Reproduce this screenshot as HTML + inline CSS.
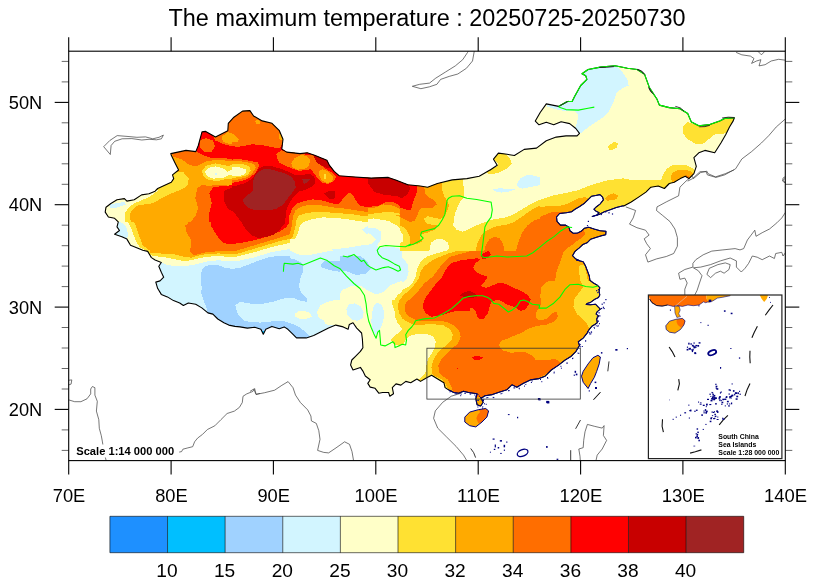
<!DOCTYPE html>
<html><head><meta charset="utf-8"><title>The maximum temperature</title>
<style>html,body{margin:0;padding:0;background:#fff}body{width:814px;height:586px;overflow:hidden}svg{display:block}text{font-family:"Liberation Sans",sans-serif;fill:#000}</style></head><body>
<svg width="814" height="586" viewBox="0 0 814 586" style="will-change:transform">
<rect width="814" height="586" fill="#fff"/>
<defs><clipPath id="cn"><polygon points="105.2,212.1 106,207.2 110.9,203.5 117,199.8 124.4,198.6 126.9,201.1 134.2,199.8 141.6,194.9 149,193.7 155.1,191.2 157.7,188.5 171.3,182.3 173.7,178.6 172.5,174.9 178.6,170 174.9,162.7 171.3,155.3 170.8,153.6 186,150.4 195.8,151.6 198.3,145.5 202,131.9 205.7,131.4 215.5,136.9 227.8,130.7 228.3,123.3 233.9,117.2 242.5,111.1 249.9,110.6 253.6,116 262.2,120.9 272,123.3 279.4,130.7 283,139.3 281.8,149.1 286.7,152.1 300,153.6 307.2,152.8 314.6,155.3 326.9,160.2 329.3,165.1 334.2,171.3 339.1,175.7 351.4,176.7 371.1,178.1 388.3,177.4 395.7,179.9 407.9,184.8 420.2,186 427.6,187.2 437.4,183.5 452.2,179.9 466.9,178.6 479.2,176.2 490,170 489.8,170.3 497.2,165.3 493.5,159.2 498.4,153.1 507,154.3 514.4,155.5 524.2,149.4 536.5,148.1 546.3,140.8 556.2,137.1 566,135.9 577.1,135.9 579.5,133.4 575.8,128.5 569.7,123.6 561.1,121.8 553.7,124.8 546.3,122.3 539,124.8 535.3,121.1 540.2,112.5 546.3,103.9 558.6,106.4 567.2,101.5 572.1,101.5 574.6,96.5 580.7,85.5 586.9,79.3 585.7,75.7 582,73.7 588.1,69.5 600.4,67.1 615.1,65.8 627.4,68.3 637.2,69.5 644.6,74.4 649.5,87.9 656.9,99 659.4,105.1 669.2,107.6 680,108.8 687.7,113.5 691.4,122.1 698.8,125.8 709.8,124.6 719.7,120.9 724.6,118.4 734.4,117.7 733.2,120.9 729.5,127 725.8,134.4 720.9,143 714.7,152.8 704.9,150.4 698.8,152.8 693.9,157.7 696.3,166.3 693.9,173.7 688.9,178.6 685.3,176.2 680.3,178.6 674.2,182.3 669.3,183.5 664.4,188.5 658.2,186 650.9,187.2 645.9,192.1 638.6,197.1 631.2,202 623.8,206.1 623.2,205.8 616.3,207.5 609.4,210.1 604.3,211.8 599.1,214.4 592.2,216.5 596.5,215.3 599.1,212.7 595.7,211 594,209.2 596.5,206.7 600,204.1 603.4,199.8 602.6,197.2 600,194.6 595.7,195.5 591.4,196.3 587.9,199.8 584.5,203.2 579.3,206.7 575,209.2 571.6,211.8 566.4,212.7 559.6,213.5 556.5,217 557,221.3 560.4,225.1 565.6,225.1 569,227.3 569.9,230.7 573.3,233.3 577.6,233 581.1,231.3 584.5,228.2 588.8,227.3 594,229 600,230.7 606,231.3 605.7,234.7 600.8,235.9 595.7,237.6 590.5,239.3 587.1,242.8 582.8,244.5 579.3,247.9 575,251.4 572.5,255.7 575.9,259.1 579.3,260.5 576.4,260 583.2,261.8 585.6,266.1 587.5,271.1 589.3,276 589.9,280.3 593,282.7 597.3,285.2 599.8,287.6 599.1,291.3 599.8,295 598.5,297.5 594.8,299.3 590.5,302.4 586.9,303.6 586.2,304.5 590.5,304.8 595.5,304.2 598.5,307.3 600.4,309.1 597.3,311.6 596.1,314.1 598.5,315.9 596.7,319 597.3,322.7 594.8,324.5 591.8,326.3 589.3,329.4 587.5,332 588.1,331.9 583.2,338.1 578.3,341.8 579.5,345.5 575.8,351.6 570.9,356.5 564.8,360.2 558.6,365.1 551.3,370 545.1,376.2 539,378.6 530.4,379.9 523,383.5 516.9,387.2 511.9,384.8 507,389.7 499.7,392.1 492.3,394.6 484.9,395.8 481.2,398.3 480.7,397.4 483.2,402.3 480.7,406 477.1,404.8 475.8,398.6 477.1,393.7 473.4,393.2 468.5,392.5 463.5,391.3 458.6,393.2 453.7,392.5 448.8,390 445.1,387.6 443.9,382.7 437.7,379 431.6,375.3 426.7,377.7 420.5,381.4 416.9,379 410.7,382.7 405.8,381.4 400.9,385.1 396,383.9 392.3,387.6 393.5,393.7 389.8,396.2 388.6,392.5 382.5,392.5 378.8,393.2 375.1,388.3 370.2,387.1 367.8,383.4 370.2,379.7 365.3,376 362.9,371.1 360.4,367.4 353,369.9 350.6,364.9 351.8,360 355.5,356.3 360.4,351.4 362.9,347.7 362.4,339.1 361.6,333 356.7,328.1 353,322.7 349.3,324.4 348.1,329.3 343.2,326.9 335.8,325.1 328.5,328.1 321.1,331.8 313.7,335.5 306.3,337.9 296.5,337.9 292.8,334.2 287.9,329.3 284.2,326.9 279.3,328.8 271.9,326.4 265.8,329.3 263.3,334.2 260.9,329.3 254.7,327.3 247.4,328.1 240,326.9 235,326.4 228.8,325.1 223.9,322.7 217.8,319 212.9,314.1 207.9,312.9 201.8,307.9 195.7,304.3 188.3,303 183.4,305.5 179.7,303 173.5,300.6 167.4,296.9 161.3,294.4 157.6,288.3 155.8,282.1 160,280.9 163.7,277.2 161.3,272.3 158.8,266.2 161.3,262.5 155.1,260 151.4,257.6 147.7,251.4 142.8,250.2 136.7,247.7 130.5,245.3 126.9,239.1 121.9,236.7 114.6,234.2 119.5,230.5 117,226.9 118.3,221.9 114.6,218.3 108.4,217"/></clipPath><clipPath id="fr"><rect x="68.7" y="51.2" width="716.5999999999999" height="409.40000000000003"/></clipPath></defs>
<g clip-path="url(#fr)">
<g fill="none" stroke="#3c3c3c" stroke-width="0.7" stroke-linejoin="round">
<path d="M103.7 146.7 L109.8 140.5 L117.2 135.6 L127 136.4 L136.9 137.3 L145.5 136.9 L152.8 138.8 L159 137.3 L163.4 135.1 L161.4 138.8 L156.5 139.8 L149.1 139.3 L141.8 140 L131.9 138.6 L122.1 138.8 L114.7 141.3 L111.1 145.5 L110.3 154.5Z"/>
<path d="M412.3 86.3 L419.7 84.3 L429.5 83.1 L435.7 78.2 L445.5 72 L455.3 65.9 L462.7 59.7 L467.6 52.4 L468.8 49.9 L474.5 49.9 L472.5 61 L466.4 68.3 L457.8 74 L449.2 76.4 L440.6 79.4 L436.9 84.3 L429.5 86.8 L420.9 88.7Z"/>
<path d="M736.1 52.4 L741.8 54.8 L750.4 56.1 L754 58.5 L751.6 63.4 L756.5 61 L760.9 59.7 L759 65.9 L765.1 64.7 L771.2 61 L778.6 59.3 L785.3 60.2"/>
<path d="M757.7 51.1 L761.4 54.8 L765.1 51.1"/>
<path d="M786 118.4 L776.2 127 L768.8 135.6 L761.4 143 L751.6 151.6 L741.8 159 L735.6 168.8 L724.6 174.9 L716 177.4 L707.4 174.9 L706.1 171.7 L700 171.7 L692.6 178.6 L687.7 181.1"/>
<path d="M786 176.2 L783 178.1 L782.6 181.1 L786 183.5"/>
<path d="M625.8 206.9 L635.6 210.5 L633.2 217.9 L629.5 224.1 L636.9 227.7 L645.5 230.2 L649.1 235.1 L644.2 238.8 L646.7 243.7 L650.4 248.6 L645.5 254.8 L647.9 262.1 L656.5 258.9 L666.3 256.5 L673.7 253.5 L677.4 246.2 L677.4 237.6 L674.9 229 L670 221.6 L662.7 215.5 L656.5 210.5 L657 206.9 L666.3 201.9 L678.6 195.8 L679.9 187.2 L686 181.1 L692.1 176.1 L693.4 178.6 L700.7 172.5 L706.9 171.2 L708.1 173.7 L715.5 176.9 L725.3 173.7 L733.9 170"/>
<path d="M786.7 210.5 L781.8 217.9 L776.9 222.8 L769.5 229 L762.2 232.7 L756 236.3 L754.8 230.2 L751.1 235.1 L747.4 240 L743.7 248.6 L740 249.9 L735.1 248.6 L722.9 249.9 L711.8 251.1 L703.2 254.8 L695.8 259.7 L692.9 263.4 L692.9 267.1 L684.8 269.5 L678.6 273.2 L679.9 279.3 L684.8 278.1 L687.2 283 L684.8 289.2 L684.8 295.3"/>
<path d="M786.7 251.1 L783 256 L781.8 252.3 L775.7 253.5 L774.4 258.5 L769.5 256 L762.2 259.7 L757.2 257.2 L752.3 256 L748.6 263.4 L745 268.3 L741.3 272 L736.4 267.1 L736.4 260.9 L730.2 258 L720.4 260.9 L710.6 264.6 L700.7 267.1 L693.4 267.8 L698.3 270.7 L702 275.7 L699.5 283 L697.1 290.4 L694.6 295.3"/>
<path d="M706.9 274.4 L709.3 268.3 L717.9 264.6 L725.3 262.9 L730.2 264.6 L729 269.5 L724.1 273.2 L720.4 271.2 L715.5 273.2 L710.6 277.6Z"/>
<path d="M786.7 176.9 L783 180.3 L786.7 184"/>
<path d="M67.4 380.4 L71.8 379.9 L71.1 384.1 L67.4 385.3"/>
<path d="M67.4 399.5 L74.7 401.7 L80.9 401.7 L87 398.8 L90.7 393.9 L90.7 389 L92.4 386.5 L94.9 387.7 L94.9 395.1 L97.3 401.3 L96.4 411.1 L98.8 419.7 L99.3 428.3 L101.3 435.7 L102.3 441.1 L104.2 452.9 L106.7 462.7"/>
<path d="M179.2 452.1 L181.6 451.6 L182.9 449.2 L187.8 447.9 L192.7 446.7 L194.6 441.8 L197.6 438.1 L202.5 434.4 L207.4 429.5 L214.8 425.8 L220.9 419.7 L227.1 413.5 L234.4 411.1 L239.4 407.4 L242.3 402.5 L243 396.3 L246.7 393.9 L252.9 391.4 L254.6 388.5 L256.1 394.4 L260 393.4"/>
<path d="M250 391.4 L253.7 389 L256.1 394.4 L264.7 392.7 L274.6 390.2 L281.9 385.3 L288.1 381.6 L293 387.7 L295.5 395.1 L300.4 402.5 L307.7 409.9 L310.9 416 L311.4 420.9 L316.3 423.4 L318.8 430.7 L320 439.3 L317.6 450.4 L323.7 452.4 L328.6 452.9 L336 447.9 L344.6 441.8 L349.5 444.3 L352 451.6 L353.7 461.4"/>
<path d="M461.1 393.2 L451.3 396.2 L442.7 402.3 L435.3 410.9 L433.6 418.3 L437.7 428.1 L446.3 436.7 L456.2 446.5 L463.5 455.1 L467.2 461.3"/>
<path d="M580.5 463.7 L580 456.3 L578.8 449 L583.2 447.7 L583.7 440.4 L585 431.8 L587.4 424.4 L594.8 426.4 L602.2 428.1 L604.1 425.6 L603.4 435.5 L606.6 440.4 L602.2 449 L597.2 455.1 L595.3 463.7"/>
</g>
<g clip-path="url(#cn)" shape-rendering="crispEdges">
<rect x="60" y="50" width="740" height="420" fill="#FFFFC8"/>
<clipPath id="t0"><rect x="100" y="100" width="200" height="144"/></clipPath>
<g clip-path="url(#t0)"><rect x="100" y="100" width="200" height="144" fill="#FFAA00"/><g transform="translate(100,100) scale(0.24570)">
<polygon fill="#FFE132" points="300,290 340,295 362,320 355,350 330,365 290,380 250,400 215,420 180,425 150,430 125,455 120,480 135,510 150,545 155,586 0,586 0,300"/>
<polygon fill="#FFFFC8" points="240,365 200,395 170,408 140,420 115,440 100,462 100,490 112,520 125,550 135,586 0,586 0,350"/>
<polygon fill="#D2F5FF" points="40,425 100,415 105,425 60,440 40,440"/>
<polygon fill="#D2F5FF" points="75,500 100,505 110,530 100,550 70,540"/>
<polygon fill="#FF6E00" points="300,232 330,240 365,265 395,270 430,250 480,243 540,250 600,245 640,255 650,270 640,300 620,330 590,345 540,350 480,345 440,350 415,345 395,360 388,400 400,440 390,470 370,495 355,520 350,560 360,586 814,586 814,0 280,0 280,200"/>
<polygon fill="#FFAA00" points="495,150 520,130 545,140 565,160 560,175 530,180 500,170"/>
<polygon fill="#FFAA00" points="628,85 645,80 655,95 640,100"/>
<polygon fill="#FFAA00" points="790,245 814,225 814,285 795,275"/>
<polygon fill="#FF0000" points="392,205 400,185 405,120 430,118 460,145 470,165 500,178 540,190 570,195 600,185 640,180 690,195 720,215 725,250 750,265 790,280 814,290 814,586 480,586 460,540 445,500 445,460 455,420 445,380 460,355 500,350 560,345 600,335 630,320 645,295 650,265 620,250 560,245 500,235 450,235 420,225 400,215"/>
<polygon fill="#FF6E00" points="408,165 430,155 460,165 468,190 455,210 425,212 408,195"/>
<polygon fill="#FFAA00" points="728,140 745,135 752,150 746,166 730,160"/>
<polygon fill="#C80000" points="640,275 680,265 720,270 760,285 814,300 814,400 790,420 765,460 755,500 740,530 700,555 650,560 600,540 580,510 555,470 520,440 505,410 505,370 540,355 590,340 620,310"/>
<polygon fill="#A02323" points="650,290 690,280 730,290 770,310 795,340 790,375 770,400 745,430 700,440 650,445 610,440 582,415 590,395 620,370 630,340 640,305"/>
<polygon fill="#FFE132" points="415,290 430,268 470,258 520,268 560,262 600,270 615,290 600,318 560,325 520,320 480,330 440,325 420,310"/>
<polygon fill="#FFFFC8" points="427,292 440,277 470,270 500,278 520,292 545,280 575,275 595,285 598,300 580,312 550,310 525,305 500,318 460,320 435,310"/>
<polygon fill="#D2F5FF" points="468,296 478,296 478,304 468,304"/>
</g></g>
<clipPath id="t1"><rect x="290" y="100" width="200" height="144"/></clipPath>
<g clip-path="url(#t1)"><rect x="290" y="100" width="200" height="144" fill="#FFE132"/><g transform="translate(290,100) scale(0.24570)">
<polygon fill="#FFFFC8" points="0,505 30,490 80,480 130,475 200,480 260,485 330,485 400,470 440,480 470,500 480,530 490,586 0,586"/>
<polygon fill="#FFFFC8" points="705,330 740,320 780,305 814,285 814,395 760,392 720,385 705,360"/>
<polygon fill="#FFFFC8" points="670,480 700,465 750,465 790,480 800,510 785,545 750,560 700,555 670,530"/>
<polygon fill="#D2F5FF" points="300,525 330,515 360,525 375,545 365,570 340,586 310,586 295,550"/>
<polygon fill="#FFAA00" points="0,200 620,200 615,335 625,350 620,380 625,410 610,430 600,450 580,470 555,480 550,500 570,520 600,550 605,586 510,586 500,540 495,500 480,475 440,460 400,455 340,462 280,465 220,460 160,458 100,455 40,460 0,470"/>
<polygon fill="#FF6E00" points="0,200 550,200 545,355 560,375 590,395 600,420 585,430 560,425 540,450 525,485 500,470 480,455 450,445 420,430 380,425 340,440 290,440 265,425 250,400 235,385 210,410 190,430 150,425 100,418 40,420 0,430"/>
<polygon fill="#FFAA00" points="0,215 40,220 70,235 80,260 60,285 25,290 0,280"/>
<polygon fill="#FFAA00" points="128,300 145,292 155,310 145,328 130,320"/>
<polygon fill="#FFE132" points="137,305 146,303 147,320 138,318"/>
<polygon fill="#FF0000" points="0,300 40,295 75,290 85,270 95,235 100,200 520,200 520,350 515,380 500,410 495,440 480,447 450,432 420,415 390,415 360,430 320,435 285,430 265,410 250,385 235,375 215,395 195,420 170,420 130,410 80,400 40,405 0,410"/>
<polygon fill="#FF6E00" points="100,270 120,262 160,270 180,290 200,308 185,312 165,332 140,337 120,322 105,300"/>
<polygon fill="#FFAA00" points="128,300 145,292 155,310 145,328 130,320"/>
<polygon fill="#FFE132" points="137,305 146,303 147,320 138,318"/>
<polygon fill="#C80000" points="0,305 40,300 85,300 105,320 100,345 70,365 40,385 0,395"/>
<polygon fill="#A02323" points="0,320 15,325 25,350 15,380 0,390"/>
<polygon fill="#A02323" points="55,325 75,318 85,328 70,342 55,338"/>
<polygon fill="#C80000" points="105,236 150,246 160,268 135,275 110,260"/>
<polygon fill="#C80000" points="145,378 170,370 188,380 185,400 160,405 143,395"/>
<polygon fill="#C80000" points="305,320 330,305 400,305 430,315 480,335 492,360 480,385 455,395 420,390 380,385 345,375 325,350"/>
</g></g>
<clipPath id="t2"><rect x="90" y="222" width="200" height="112"/></clipPath>
<g clip-path="url(#t2)"><rect x="90" y="222" width="200" height="112" fill="#D2F5FF"/><g transform="translate(90,190) scale(0.24570)">
<polygon fill="#A0D2FF" points="455,330 480,312 520,305 560,318 600,322 650,305 700,290 750,275 814,268 814,586 500,586 500,505 480,490 475,450 460,420 450,380"/>
<polygon fill="#D2F5FF" points="595,475 620,458 660,462 700,465 740,455 780,440 814,435 814,520 780,530 740,540 700,545 660,540 620,530 600,505"/>
<polygon fill="#00BFFF" points="698,574 712,574 710,586 698,586"/>
<polygon fill="#FFFFC8" points="0,0 814,0 814,225 760,240 720,255 680,268 640,280 600,290 560,290 520,285 480,290 440,300 400,312 360,305 320,300 290,295 265,285 250,275 0,275"/>
<polygon fill="#D2F5FF" points="115,130 135,135 150,155 155,185 150,200 130,190 100,180 120,165 110,150"/>
<polygon fill="#FFE132" points="300,0 814,0 814,210 760,225 720,238 680,250 640,262 600,272 560,275 520,272 480,275 440,285 400,298 370,290 330,285 290,280 250,268 225,245 205,235 190,215 180,190 170,160 155,130 140,105 135,85 160,70 200,50 240,35 270,20"/>
<polygon fill="#FFAA00" points="330,0 814,0 814,195 760,210 720,222 680,232 640,245 600,255 560,258 520,258 480,262 440,272 410,283 380,272 350,258 320,262 280,258 240,245 215,225 205,200 195,170 185,140 165,115 160,95 175,80 210,60 250,45 290,25"/>
<polygon fill="#FF6E00" points="430,0 814,0 814,180 770,195 720,210 680,220 640,232 600,240 560,245 510,250 470,258 435,268 415,250 415,220 400,190 390,160 400,130 430,100 445,70 440,40"/>
<polygon fill="#FF0000" points="485,0 814,0 814,140 790,160 760,180 720,195 680,205 640,215 590,222 550,218 530,200 510,180 495,150 490,120 500,80 495,40"/>
<polygon fill="#C80000" points="545,0 814,0 814,90 805,110 795,145 770,170 740,185 700,195 670,185 640,160 620,125 600,90 575,60 550,30"/>
<polygon fill="#A02323" points="640,0 814,0 814,55 790,70 760,80 720,80 680,75 650,65 625,45 620,20"/>
</g></g>
<clipPath id="t3"><rect x="290" y="215" width="200" height="129"/></clipPath>
<g clip-path="url(#t3)"><rect x="290" y="215" width="200" height="129" fill="#FFFFC8"/><g transform="translate(290,200) scale(0.24570)">
<polygon fill="#FFE132" points="0,0 814,0 814,586 410,586 430,550 445,520 430,500 420,460 420,415 440,385 470,365 505,340 510,300 530,270 550,240 580,225 620,215 645,190 640,170 610,160 570,165 540,180 500,195 475,175 460,140 440,105 400,85 340,75 280,80 220,85 160,80 100,85 50,100 20,130 0,155"/>
<polygon fill="#FFFFC8" points="665,80 690,40 720,15 760,5 814,0 814,85 790,95 760,110 720,125 690,120 670,105"/>
<polygon fill="#FFFFC8" points="490,560 520,548 555,552 575,570 580,586 485,586"/>
<polygon fill="#FFAA00" points="0,0 660,0 650,40 640,70 620,100 590,120 555,140 530,160 500,170 490,140 475,95 440,65 400,55 340,50 280,55 220,60 160,55 100,55 60,60 25,75 0,110"/>
<polygon fill="#FFE132" points="550,75 575,68 600,75 605,90 585,98 560,95"/>
<polygon fill="#FFAA00" points="814,140 780,160 740,175 700,195 660,220 620,240 580,245 560,262 545,290 535,320 520,350 490,370 460,390 440,415 440,460 450,500 470,520 480,535 520,530 560,535 590,560 595,586 814,586"/>
<polygon fill="#FFAA00" points="440,555 465,540 475,560 470,586 425,586"/>
<polygon fill="#FF6E00" points="0,0 330,0 300,15 260,30 200,40 140,30 80,25 30,35 0,60"/>
<polygon fill="#FF6E00" points="480,0 600,0 580,20 550,40 520,60 500,70 490,40"/>
<polygon fill="#FF0000" points="265,0 500,0 495,40 470,45 440,30 400,25 360,15 320,20 290,10"/>
<polygon fill="#FF0000" points="0,0 215,0 200,12 150,8 100,5 50,12 0,25"/>
<polygon fill="#FF6E00" points="814,185 790,200 760,215 720,225 680,245 640,265 610,275 590,295 575,320 560,345 530,370 500,390 475,410 465,440 470,475 490,495 520,490 560,485 600,500 640,515 670,535 690,560 700,586 814,586"/>
<polygon fill="#FF0000" points="814,205 780,225 750,240 720,245 690,255 660,280 640,300 620,330 600,350 570,375 550,400 540,430 545,460 570,480 610,490 650,495 690,500 720,480 750,465 790,470 814,480"/>
<polygon fill="#FF6E00" points="814,305 790,320 775,345 790,365 814,375"/>
<polygon fill="#C80000" points="690,385 720,372 750,378 760,392 730,398 700,397"/>
<polygon fill="#D2F5FF" points="0,205 40,215 80,222 130,210 180,200 230,195 290,185 330,180 350,160 330,140 300,125 320,112 350,115 372,130 370,160 355,185 360,195 400,190 440,195 470,215 480,250 485,290 470,320 440,335 410,345 380,375 350,385 310,365 290,350 250,350 215,365 195,390 160,400 130,415 110,440 125,470 140,495 120,510 80,505 40,510 0,500"/>
<polygon fill="#FFFFC8" points="20,465 45,452 75,458 88,472 70,485 35,482"/>
<polygon fill="#D2F5FF" points="232,440 250,422 280,420 298,440 300,470 285,490 255,488 235,470"/>
<polygon fill="#D2F5FF" points="340,440 355,418 375,425 385,460 385,500 370,530 350,520 340,480"/>
<polygon fill="#D2F5FF" points="0,505 40,512 80,508 120,512 140,497 150,520 100,545 60,560 0,570"/>
<polygon fill="#A0D2FF" points="0,520 30,525 60,540 75,555 40,560 0,562"/>
<polygon fill="#A0D2FF" points="0,240 30,250 50,275 45,310 40,350 55,385 70,410 50,415 20,395 0,385"/>
<polygon fill="#A0D2FF" points="130,255 160,235 200,228 250,225 290,230 315,250 330,280 310,300 270,305 230,290 190,285 150,280 128,268"/>
</g></g>
<clipPath id="t4"><rect x="484" y="200" width="196" height="144"/></clipPath>
<g clip-path="url(#t4)"><rect x="484" y="200" width="196" height="144" fill="#FF6E00"/><g transform="translate(480,200) scale(0.24570)">
<polygon fill="#FFAA00" points="0,0 420,0 400,40 340,50 315,85 300,70 250,75 200,90 170,110 150,150 140,190 110,195 95,165 70,150 40,165 0,175"/>
<polygon fill="#FFE132" points="0,0 450,0 400,25 370,45 330,30 290,35 240,50 190,70 140,90 90,110 40,130 0,140"/>
<polygon fill="#FFFFC8" points="0,0 300,0 250,20 200,40 130,65 60,85 0,95"/>
<polygon fill="#FFAA00" points="410,190 380,215 350,235 330,260 315,290 300,320 270,335 250,355 245,390 250,420 235,450 225,475 240,490 270,485 295,460 312,455 318,475 300,495 270,508 235,512 200,522 170,540 120,560 70,580 50,586 814,586 814,100 520,100 450,115 420,130 395,150 400,175"/>
<polygon fill="#FFE132" points="415,255 405,290 410,330 420,355 405,375 385,400 380,435 395,465 420,485 440,510 450,540 440,570 814,570 814,255"/>
<polygon fill="#FF0000" points="0,215 25,205 45,220 35,240 0,245"/>
<polygon fill="#FF0000" points="0,305 20,310 30,330 10,345 0,350"/>
<polygon fill="#FF0000" points="0,395 40,370 70,340 100,335 130,355 165,375 195,390 205,410 195,435 170,450 150,440 120,420 85,405 55,420 40,455 25,480 0,490"/>
</g></g>
<clipPath id="t5"><rect x="402" y="222" width="136" height="97"/></clipPath>
<g clip-path="url(#t5)"><rect x="402" y="222" width="136" height="97" fill="#FF6E00"/><g transform="translate(400,220) scale(0.17199)">
<polygon fill="#FFAA00" points="0,0 760,0 730,30 700,60 680,110 670,155 640,170 600,150 590,115 560,95 520,105 480,130 450,160 400,185 340,200 290,215 250,250 220,290 190,330 140,370 100,420 50,470 30,510 0,555"/>
<polygon fill="#FFE132" points="0,0 720,0 680,20 620,30 560,35 500,40 480,60 470,90 450,115 420,140 380,165 330,180 280,195 230,215 180,240 140,270 120,300 110,340 80,380 40,420 0,450"/>
<polygon fill="#FFAA00" points="0,0 245,0 225,40 190,60 150,75 130,100 100,118 70,105 60,75 20,50 0,40"/>
<polygon fill="#FF6E00" points="30,0 95,0 80,10 45,10"/>
<polygon fill="#FFFFC8" points="305,15 330,0 490,0 480,30 450,50 400,65 350,65 320,50"/>
<polygon fill="#FFFFC8" points="0,165 60,160 120,150 170,125 210,110 250,115 280,135 285,160 260,180 210,195 160,210 120,240 100,280 90,330 70,370 40,395 0,410"/>
<polygon fill="#D2F5FF" points="0,215 25,230 45,260 50,300 40,340 20,360 0,365"/>
<polygon fill="#FF0000" points="300,250 350,235 400,228 450,222 470,228 440,250 425,275 440,300 480,320 510,330 495,355 470,385 500,395 540,380 570,365 610,370 650,390 700,410 740,435 760,460 750,490 730,520 700,530 680,515 650,500 620,490 590,470 560,465 530,480 520,510 510,545 490,570 465,586 450,560 440,530 420,510 390,520 370,545 340,560 300,570 250,575 200,580 160,575 135,540 135,495 150,450 180,410 210,370 240,340 260,300 280,270"/>
<polygon fill="#FF0000" points="470,210 490,190 515,180 528,200 510,220 480,230"/>
<polygon fill="#C80000" points="345,438 375,420 405,412 435,425 450,445 420,455 380,450"/>
<polygon fill="#FFAA00" points="812,515 795,530 790,560 800,586 812,586"/>
</g></g>
<clipPath id="t6"><rect x="490" y="56" width="190" height="144"/></clipPath>
<g clip-path="url(#t6)"><rect x="490" y="56" width="190" height="144" fill="#FFFFC8"/><g transform="translate(480,56) scale(0.24570)">
<polygon fill="#D2F5FF" points="420,75 440,55 490,40 550,38 575,60 600,95 605,120 580,130 555,150 545,185 525,225 500,250 470,270 440,290 415,310 400,322 385,300 395,270 400,240 385,225 350,225 300,215 270,205 275,190 320,205 355,180 375,180 380,165 405,120 430,95"/>
<polygon fill="#D2F5FF" points="150,520 175,495 210,485 240,495 245,515 220,530 180,535"/>
<polygon fill="#D2F5FF" points="55,540 100,535 150,540 120,555 70,555"/>
<polygon fill="#FFE132" points="55,420 75,390 110,400 125,420 130,440 110,460 80,475 50,485 20,480 0,495 0,470 40,465 70,445"/>
<polygon fill="#FFE132" points="520,370 545,348 562,355 555,375 530,385"/>
<polygon fill="#FFE132" points="250,586 300,570 350,555 400,540 450,525 500,510 560,495 620,500 680,505 720,495 750,470 780,450 814,440 814,586"/>
<polygon fill="#FFAA00" points="510,586 520,565 545,555 560,570 555,586"/>
<polygon fill="#FFAA00" points="740,500 760,475 790,460 814,455 814,520 780,525 750,520"/>
<polygon fill="#FF6E00" points="780,490 800,475 814,470 814,505 795,510"/>
</g></g>
<clipPath id="t7"><rect x="655" y="110" width="159" height="134"/></clipPath>
<g clip-path="url(#t7)"><rect x="655" y="110" width="159" height="134" fill="#FFFFC8"/><g transform="translate(614,100) scale(0.24570)">
<polygon fill="#FFE132" points="300,90 345,105 390,100 430,85 470,70 495,70 480,90 460,130 440,140 410,140 385,160 360,180 335,180 300,160 280,135 280,110"/>
<polygon fill="#FFFFC8" points="385,165 410,145 440,140 465,130 455,150 435,180 410,215 380,200 370,180"/>
<polygon fill="#FFE132" points="0,320 40,320 90,330 130,340 180,335 200,310 215,285 240,265 270,258 300,262 325,275 345,300 310,335 200,375 100,410 0,445"/>
<polygon fill="#FFAA00" points="232,320 240,295 265,282 295,285 315,298 320,315 290,318 270,325 245,338"/>
<polygon fill="#FF6E00" points="282,306 300,298 314,305 308,320 292,316"/>
<polygon fill="#FFAA00" points="0,380 15,385 20,400 0,410"/>
<polygon fill="#FFE132" points="0,170 15,180 10,195 0,200"/>
</g></g>
<clipPath id="t8"><rect x="560" y="150" width="140" height="101"/></clipPath>
<g clip-path="url(#t8)"><rect x="560" y="150" width="140" height="101" fill="#FFFFC8"/><g transform="translate(560,150) scale(0.17199)">
<polygon fill="#FFE132" points="0,290 40,280 80,260 120,235 170,220 220,200 270,185 320,170 370,165 420,175 470,185 520,190 560,185 590,170 600,140 620,110 650,90 700,85 740,90 770,105 790,120 812,130 812,586 0,586"/>
<polygon fill="#FFAA00" points="268,265 290,250 320,250 335,265 325,290 290,295 265,290"/>
<polygon fill="#FFAA00" points="645,165 650,135 680,118 720,115 760,122 775,135 770,160 740,170 700,175 680,185 660,195"/>
<polygon fill="#FF6E00" points="735,148 752,150 748,166 737,162"/>
<polygon fill="#FFAA00" points="0,330 30,335 60,345 75,355 50,375 0,380"/>
<polygon fill="#FFAA00" points="60,420 150,445 200,455 280,465 280,510 200,525 150,550 100,586 0,586 0,420"/>
<polygon fill="#FF6E00" points="0,420 50,425 70,445 90,470 140,480 110,510 90,545 70,586 0,586"/>
</g></g>
<clipPath id="t9"><rect x="440" y="338" width="200" height="106"/></clipPath>
<g clip-path="url(#t9)"><rect x="440" y="338" width="200" height="106" fill="#FF6E00"/><g transform="translate(440,300) scale(0.24570)">
<polygon fill="#FFAA00" points="395,0 390,30 400,55 420,78 455,85 478,70 475,95 440,110 400,120 360,130 320,145 280,155 250,165 240,185 255,205 290,215 340,210 375,225 390,245 430,245 470,240 490,255 470,275 440,295 415,310 395,320 375,325 350,345 320,360 814,360 814,0"/>
<polygon fill="#FFE132" points="545,30 560,10 590,0 680,0 680,60 640,80 610,90 585,80 560,60"/>
<polygon fill="#FF0000" points="75,0 200,0 205,25 195,55 180,75 160,70 140,45 110,35 85,40 70,25"/>
<polygon fill="#FF0000" points="210,0 370,0 360,15 335,35 310,45 285,40 260,25 235,15"/>
<polygon fill="#FFAA00" points="0,95 30,100 60,115 80,140 85,170 70,195 40,205 0,210"/>
<polygon fill="#FFE132" points="0,130 25,135 45,155 45,180 25,195 0,195"/>
<polygon fill="#FF0000" points="130,232 155,227 180,235 160,243 135,242"/>
<polygon fill="#FF0000" points="68,277 76,277 76,283 68,283"/>
<polygon fill="#FFE132" points="0,315 15,318 25,345 0,355"/>
<polygon fill="#FFAA00" points="138,393 178,393 178,440 138,440"/>
</g></g>
<clipPath id="t10"><rect x="330" y="300" width="140" height="91"/></clipPath>
<g clip-path="url(#t10)"><rect x="330" y="300" width="140" height="91" fill="#FFFFC8"/><g transform="translate(330,290) scale(0.17199)">
<polygon fill="#D2F5FF" points="0,0 60,0 50,30 20,50 0,55"/>
<polygon fill="#D2F5FF" points="95,110 110,85 145,78 180,95 195,130 190,165 160,180 125,170 100,145"/>
<polygon fill="#D2F5FF" points="255,90 275,75 300,85 315,130 310,180 295,220 280,250 262,265 245,230 240,180 245,130"/>
<polygon fill="#D2F5FF" points="240,0 330,0 310,20 270,28 250,15"/>
<polygon fill="#FFE132" points="420,0 385,20 365,45 360,80 375,120 380,160 395,195 420,225 400,250 375,265 355,290 370,315 400,325 430,310 445,280 470,265 510,255 560,255 600,270 615,300 610,330 590,370 570,400 560,440 555,480 530,510 500,528 520,548 812,586 812,0"/>
<polygon fill="#FFAA00" points="470,0 430,25 405,55 395,90 400,130 420,165 450,185 480,200 520,205 560,200 610,200 660,205 700,230 715,260 705,295 680,320 650,340 620,375 600,410 590,450 595,490 620,505 650,520 670,545 690,586 812,586 812,0"/>
<polygon fill="#FF6E00" points="530,0 490,25 455,55 435,90 435,125 455,150 490,170 530,180 580,178 630,180 680,185 720,205 750,235 760,270 745,310 710,340 680,370 650,400 630,440 635,480 655,500 685,520 700,550 715,586 812,586 812,0"/>
<polygon fill="#FF0000" points="590,0 560,30 545,65 540,100 555,135 590,155 630,150 670,140 720,125 760,120 812,125 812,0"/>
<polygon fill="#C80000" points="750,35 780,15 812,10 812,40 780,42"/>
<polygon fill="#FF0000" points="736,452 745,452 745,462 736,462"/>
</g></g>
<clipPath id="t11"><rect x="200" y="250" width="140" height="91"/></clipPath>
<g clip-path="url(#t11)"><rect x="200" y="250" width="140" height="91" fill="#D2F5FF"/><g transform="translate(200,240) scale(0.17199)">
<polygon fill="#A0D2FF" points="10,175 30,155 70,145 130,150 180,165 230,170 270,150 320,125 380,105 440,95 500,100 560,115 600,140 600,180 585,220 575,270 590,310 620,340 625,360 590,355 550,340 510,335 470,345 420,360 370,370 320,375 270,365 230,360 205,380 215,420 235,450 260,470 300,478 350,480 400,475 440,472 486,470 543,490 586,512 628,548 650,570 650,586 0,586 40,400 20,350 5,300 5,220"/>
<polygon fill="#A0D2FF" points="700,145 720,125 760,120 812,125 812,185 780,180 740,170 710,160"/>
<polygon fill="#FFFFC8" points="0,0 812,0 812,55 750,65 700,75 650,85 600,90 560,80 520,60 460,55 400,60 340,65 280,70 220,80 160,85 100,95 40,100 0,110"/>
<polygon fill="#FFE132" points="0,0 480,0 450,15 400,30 340,45 280,55 220,65 160,72 100,80 40,90 0,100"/>
<polygon fill="#FFAA00" points="0,0 440,0 400,18 340,32 280,45 220,55 160,62 100,70 40,78 0,88"/>
<polygon fill="#FF6E00" points="0,0 400,0 340,20 280,35 220,45 160,52 100,60 40,65 0,75"/>
<polygon fill="#FF0000" points="110,0 380,0 330,12 280,22 220,28 170,25 130,12"/>
<polygon fill="#FFFFC8" points="550,430 570,415 610,412 640,425 650,445 620,458 580,458 555,448"/>
<polygon fill="#FFFFC8" points="680,420 700,380 740,360 780,350 812,348 812,500 770,495 730,490 722,470 690,450"/>
<polygon fill="#00BFFF" points="358,528 372,528 372,550 360,550"/>
</g></g>
<clipPath id="t12"><rect x="232" y="142" width="136" height="97"/></clipPath>
<g clip-path="url(#t12)"><rect x="232" y="142" width="136" height="97" fill="#FF0000"/><g transform="translate(230,140) scale(0.17199)">
<polygon fill="#FF6E00" points="270,80 300,60 330,70 400,80 480,90 500,110 520,140 560,170 600,195 620,215 600,240 570,255 540,250 510,225 490,195 470,170 440,175 400,180 360,165 320,150 285,130 272,105"/>
<polygon fill="#FFAA00" points="355,135 375,105 410,88 445,92 465,115 460,150 430,170 390,172 365,158"/>
<polygon fill="#FFAA00" points="515,180 540,170 575,185 600,215 595,240 565,250 535,235 520,210"/>
<polygon fill="#FFE132" points="544,197 555,195 557,225 546,225"/>
<polygon fill="#FF6E00" points="0,0 305,0 300,30 285,50 240,40 190,30 130,25 80,35 40,40 0,30"/>
<polygon fill="#FFAA00" points="0,0 60,0 40,8 0,10"/>
<polygon fill="#C80000" points="485,80 520,95 560,110 580,115 595,160 570,165 540,150 510,135 495,115"/>
<polygon fill="#FF6E00" points="0,115 50,110 110,120 160,130 170,150 150,190 120,215 80,235 40,245 0,250"/>
<polygon fill="#FFAA00" points="0,125 50,122 100,130 140,140 150,160 130,195 100,215 60,228 0,235"/>
<polygon fill="#FFE132" points="0,140 40,138 80,142 115,155 120,180 100,205 60,215 0,222"/>
<polygon fill="#FFFFC8" points="0,160 30,158 60,160 90,170 95,190 75,205 40,210 0,205"/>
<polygon fill="#C80000" points="150,190 170,165 200,150 240,152 290,165 340,185 380,205 420,205 460,195 490,215 498,245 480,270 440,290 400,300 370,330 350,360 330,395 325,430 320,480 300,530 270,560 230,570 190,565 150,560 120,540 90,510 60,470 30,430 0,400 0,270 40,265 90,250 130,225"/>
<polygon fill="#A02323" points="135,235 150,200 185,172 225,168 270,180 320,195 360,215 378,245 382,275 360,310 335,340 310,375 270,400 225,410 180,405 140,408 100,390 72,355 85,335 110,315 135,290 133,260"/>
<polygon fill="#A02323" points="420,228 445,225 465,230 450,245 430,255"/>
<polygon fill="#C80000" points="548,310 580,295 610,298 612,330 600,345 575,340"/>
<polygon fill="#FF6E00" points="250,586 300,560 330,530 340,490 345,440 360,400 390,370 430,355 480,345 530,350 580,365 630,375 655,345 685,310 700,305 720,330 740,365 760,385 812,390 812,586"/>
<polygon fill="#FFAA00" points="300,586 345,550 360,500 365,450 380,410 410,390 450,378 500,375 560,385 620,395 680,400 740,410 812,420 812,586"/>
<polygon fill="#FFE132" points="340,586 365,560 380,510 385,470 400,440 440,425 500,418 560,420 620,425 700,430 760,440 812,445 812,586"/>
<polygon fill="#FFFFC8" points="375,586 395,540 405,500 430,475 480,460 540,450 600,452 680,460 740,470 812,480 812,586"/>
<polygon fill="#D2F5FF" points="770,520 790,505 812,500 812,545 790,545"/>
</g></g>
<clipPath id="t13"><rect x="400" y="150" width="140" height="101"/></clipPath>
<g clip-path="url(#t13)"><rect x="400" y="150" width="140" height="101" fill="#FFFFC8"/><g transform="translate(400,150) scale(0.17199)">
<polygon fill="#FFE132" points="365,170 372,230 375,275 350,300 335,330 320,370 312,410 310,440 330,465 365,475 400,460 440,440 480,425 520,410 560,400 600,395 650,380 700,350 750,320 812,290 812,586 0,586 0,170"/>
<polygon fill="#FFE132" points="545,45 555,15 600,10 640,50 650,80 620,110 580,130 540,140 500,135 520,120 565,95 570,75 550,60"/>
<polygon fill="#FFFFC8" points="180,540 210,520 250,520 280,540 285,570 270,586 170,586"/>
<polygon fill="#FFFFC8" points="0,470 15,490 18,530 0,545"/>
<polygon fill="#D2F5FF" points="680,195 700,165 740,145 790,150 812,160 812,205 760,215 710,225 685,215"/>
<polygon fill="#D2F5FF" points="540,228 580,222 640,228 680,225 640,240 590,248 555,240"/>
<polygon fill="#FFAA00" points="245,185 245,230 255,265 270,290 285,320 275,350 260,385 235,400 200,395 160,385 140,400 150,425 190,435 220,440 200,465 160,480 120,490 115,515 135,530 100,545 60,555 60,530 55,500 40,470 20,450 0,440 0,185"/>
<polygon fill="#FFAA00" points="440,586 450,540 470,500 500,470 540,450 580,440 620,435 660,420 700,395 740,365 780,340 812,325 812,586"/>
<polygon fill="#FF6E00" points="140,210 145,250 165,275 195,290 215,315 190,335 150,340 125,335 110,355 100,385 85,410 60,420 30,405 0,390 0,180"/>
<polygon fill="#FF6E00" points="490,586 500,550 520,520 550,505 580,515 600,545 605,586"/>
<polygon fill="#FF6E00" points="675,586 690,530 710,480 740,440 780,410 812,400 812,586"/>
<polygon fill="#FF0000" points="0,185 95,205 100,240 85,280 70,320 65,350 30,345 0,335"/>
<polygon fill="#C80000" points="0,188 50,198 60,225 45,255 20,275 0,280"/>
</g></g>
<clipPath id="t14"><rect x="540" y="180" width="120" height="101"/></clipPath>
<g clip-path="url(#t14)"><rect x="540" y="180" width="120" height="101" fill="#FF6E00"/><g transform="translate(520,180) scale(0.17199)">
<polygon fill="#FFAA00" points="0,0 812,0 812,200 300,200 300,195 260,190 220,185 180,188 150,200 110,218 70,228 30,238 0,258"/>
<polygon fill="#FFE132" points="0,0 812,0 812,200 420,200 400,110 380,100 340,105 300,128 270,140 230,150 180,152 130,155 80,160 40,170 0,188"/>
<polygon fill="#FFFFC8" points="0,0 520,0 481,9 410,31 338,59 267,75 195,90 116,116 60,128 0,140"/>
<polygon fill="#D2F5FF" points="0,0 120,0 110,25 60,40 0,48"/>
<polygon fill="#FFAA00" points="495,110 515,88 545,78 568,90 565,110 535,118 505,120"/>
<polygon fill="#FFAA00" points="370,283 378,315 360,335 330,355 300,380 270,400 250,425 240,460 225,500 210,540 205,586 812,586 812,270 400,270"/>
<polygon fill="#FFE132" points="345,500 360,490 375,500 385,540 395,586 350,586 345,540"/>
</g></g>
<clipPath id="t15"><rect x="150" y="225" width="140" height="65"/></clipPath>
<g clip-path="url(#t15)"><rect x="150" y="225" width="140" height="65" fill="#D2F5FF"/><g transform="translate(150,225) scale(0.17199)">
<polygon fill="#A0D2FF" points="300,265 320,240 360,230 400,235 440,250 480,255 520,250 560,235 600,220 650,200 700,185 750,180 812,180 812,440 760,450 700,460 650,465 600,460 560,450 520,455 500,475 500,510 520,545 560,570 600,586 440,586 400,545 360,520 335,490 330,440 310,400 298,350 298,300"/>
<polygon fill="#FFFFC8" points="0,0 812,0 812,140 750,150 700,160 650,175 600,190 550,200 500,212 450,210 400,205 340,210 300,220 250,232 200,240 150,240 100,232 60,215 0,200"/>
<polygon fill="#FFE132" points="0,0 812,0 812,105 750,118 700,130 650,145 600,160 550,172 500,185 450,185 400,180 330,185 280,195 240,205 200,210 150,200 100,190 60,185 20,180 0,175"/>
<polygon fill="#FFAA00" points="0,0 812,0 812,80 750,95 700,110 650,125 600,140 550,155 500,170 450,170 400,165 320,170 270,180 240,190 200,185 150,172 100,168 50,165 0,160"/>
<polygon fill="#FF6E00" points="205,0 210,40 235,80 240,120 230,150 255,175 280,170 320,160 400,152 450,150 500,150 550,135 600,120 650,105 700,90 750,75 812,55 812,0"/>
<polygon fill="#FF0000" points="350,0 370,30 395,70 420,100 450,112 500,108 550,100 600,90 650,78 700,60 750,40 790,15 800,0"/>
<polygon fill="#C80000" points="540,0 560,30 590,60 630,75 680,70 720,55 750,35 775,0"/>
</g></g>
</g>
<polygon points="600.4,357 597.9,355.3 593,357.7 588.1,363.9 583.2,371.3 581.5,376.2 583.2,382.3 588.1,388.5 590.6,383.5 594.3,377.4 596.7,371.3 599.2,363.9" fill="#FFAA00" stroke="#000080" stroke-width="1"/>
<polygon points="464.8,417.1 469.7,412.1 478.3,409.7 485.7,408.5 488.6,410.9 486.9,417.1 482,422 475.8,426.9 469.7,425.7 464.8,422" fill="#FFAA00"/>
<polygon points="478.3,409.7 485.7,408.5 488.6,410.9 486.9,417.1 482,422 478.3,423.2 476.3,418.3 477.8,414.6 480.2,412.1" fill="#FF6E00"/>
<polygon points="464.8,417.1 469.7,412.1 478.3,409.7 485.7,408.5 488.6,410.9 486.9,417.1 482,422 475.8,426.9 469.7,425.7 464.8,422" fill="none" stroke="#000080" stroke-width="1"/>
<polygon points="105.2,212.1 106,207.2 110.9,203.5 117,199.8 124.4,198.6 126.9,201.1 134.2,199.8 141.6,194.9 149,193.7 155.1,191.2 157.7,188.5 171.3,182.3 173.7,178.6 172.5,174.9 178.6,170 174.9,162.7 171.3,155.3 170.8,153.6 186,150.4 195.8,151.6 198.3,145.5 202,131.9 205.7,131.4 215.5,136.9 227.8,130.7 228.3,123.3 233.9,117.2 242.5,111.1 249.9,110.6 253.6,116 262.2,120.9 272,123.3 279.4,130.7 283,139.3 281.8,149.1 286.7,152.1 300,153.6 307.2,152.8 314.6,155.3 326.9,160.2 329.3,165.1 334.2,171.3 339.1,175.7 351.4,176.7 371.1,178.1 388.3,177.4 395.7,179.9 407.9,184.8 420.2,186 427.6,187.2 437.4,183.5 452.2,179.9 466.9,178.6 479.2,176.2 490,170 489.8,170.3 497.2,165.3 493.5,159.2 498.4,153.1 507,154.3 514.4,155.5 524.2,149.4 536.5,148.1 546.3,140.8 556.2,137.1 566,135.9 577.1,135.9 579.5,133.4 575.8,128.5 569.7,123.6 561.1,121.8 553.7,124.8 546.3,122.3 539,124.8 535.3,121.1 540.2,112.5 546.3,103.9 558.6,106.4 567.2,101.5 572.1,101.5 574.6,96.5 580.7,85.5 586.9,79.3 585.7,75.7 582,73.7 588.1,69.5 600.4,67.1 615.1,65.8 627.4,68.3 637.2,69.5 644.6,74.4 649.5,87.9 656.9,99 659.4,105.1 669.2,107.6 680,108.8 687.7,113.5 691.4,122.1 698.8,125.8 709.8,124.6 719.7,120.9 724.6,118.4 734.4,117.7 733.2,120.9 729.5,127 725.8,134.4 720.9,143 714.7,152.8 704.9,150.4 698.8,152.8 693.9,157.7 696.3,166.3 693.9,173.7 688.9,178.6 685.3,176.2 680.3,178.6 674.2,182.3 669.3,183.5 664.4,188.5 658.2,186 650.9,187.2 645.9,192.1 638.6,197.1 631.2,202 623.8,206.1 623.2,205.8 616.3,207.5 609.4,210.1 604.3,211.8 599.1,214.4 592.2,216.5 596.5,215.3 599.1,212.7 595.7,211 594,209.2 596.5,206.7 600,204.1 603.4,199.8 602.6,197.2 600,194.6 595.7,195.5 591.4,196.3 587.9,199.8 584.5,203.2 579.3,206.7 575,209.2 571.6,211.8 566.4,212.7 559.6,213.5 556.5,217 557,221.3 560.4,225.1 565.6,225.1 569,227.3 569.9,230.7 573.3,233.3 577.6,233 581.1,231.3 584.5,228.2 588.8,227.3 594,229 600,230.7 606,231.3 605.7,234.7 600.8,235.9 595.7,237.6 590.5,239.3 587.1,242.8 582.8,244.5 579.3,247.9 575,251.4 572.5,255.7 575.9,259.1 579.3,260.5 576.4,260 583.2,261.8 585.6,266.1 587.5,271.1 589.3,276 589.9,280.3 593,282.7 597.3,285.2 599.8,287.6 599.1,291.3 599.8,295 598.5,297.5 594.8,299.3 590.5,302.4 586.9,303.6 586.2,304.5 590.5,304.8 595.5,304.2 598.5,307.3 600.4,309.1 597.3,311.6 596.1,314.1 598.5,315.9 596.7,319 597.3,322.7 594.8,324.5 591.8,326.3 589.3,329.4 587.5,332 588.1,331.9 583.2,338.1 578.3,341.8 579.5,345.5 575.8,351.6 570.9,356.5 564.8,360.2 558.6,365.1 551.3,370 545.1,376.2 539,378.6 530.4,379.9 523,383.5 516.9,387.2 511.9,384.8 507,389.7 499.7,392.1 492.3,394.6 484.9,395.8 481.2,398.3 480.7,397.4 483.2,402.3 480.7,406 477.1,404.8 475.8,398.6 477.1,393.7 473.4,393.2 468.5,392.5 463.5,391.3 458.6,393.2 453.7,392.5 448.8,390 445.1,387.6 443.9,382.7 437.7,379 431.6,375.3 426.7,377.7 420.5,381.4 416.9,379 410.7,382.7 405.8,381.4 400.9,385.1 396,383.9 392.3,387.6 393.5,393.7 389.8,396.2 388.6,392.5 382.5,392.5 378.8,393.2 375.1,388.3 370.2,387.1 367.8,383.4 370.2,379.7 365.3,376 362.9,371.1 360.4,367.4 353,369.9 350.6,364.9 351.8,360 355.5,356.3 360.4,351.4 362.9,347.7 362.4,339.1 361.6,333 356.7,328.1 353,322.7 349.3,324.4 348.1,329.3 343.2,326.9 335.8,325.1 328.5,328.1 321.1,331.8 313.7,335.5 306.3,337.9 296.5,337.9 292.8,334.2 287.9,329.3 284.2,326.9 279.3,328.8 271.9,326.4 265.8,329.3 263.3,334.2 260.9,329.3 254.7,327.3 247.4,328.1 240,326.9 235,326.4 228.8,325.1 223.9,322.7 217.8,319 212.9,314.1 207.9,312.9 201.8,307.9 195.7,304.3 188.3,303 183.4,305.5 179.7,303 173.5,300.6 167.4,296.9 161.3,294.4 157.6,288.3 155.8,282.1 160,280.9 163.7,277.2 161.3,272.3 158.8,266.2 161.3,262.5 155.1,260 151.4,257.6 147.7,251.4 142.8,250.2 136.7,247.7 130.5,245.3 126.9,239.1 121.9,236.7 114.6,234.2 119.5,230.5 117,226.9 118.3,221.9 114.6,218.3 108.4,217" fill="none" stroke="#000" stroke-width="1.1" stroke-linejoin="round"/>
<path d="M623.2 205.8 L616.3 207.5 L609.4 210.1 L604.3 211.8 L599.1 214.4 L592.2 216.5 L596.5 215.3 L599.1 212.7 L595.7 211 L594 209.2 L596.5 206.7 L600 204.1 L603.4 199.8 L602.6 197.2 L600 194.6 L595.7 195.5 L591.4 196.3 L587.9 199.8 L584.5 203.2 L579.3 206.7 L575 209.2 L571.6 211.8 L566.4 212.7 L559.6 213.5 L556.5 217 L557 221.3 L560.4 225.1 L565.6 225.1 L569 227.3 L569.9 230.7 L573.3 233.3 L577.6 233 L581.1 231.3 L584.5 228.2 L588.8 227.3 L594 229 L600 230.7 L606 231.3 L605.7 234.7 L600.8 235.9 L595.7 237.6 L590.5 239.3 L587.1 242.8 L582.8 244.5 L579.3 247.9 L575 251.4 L572.5 255.7 L575.9 259.1 L579.3 260.5 L576.4 260 L583.2 261.8 L585.6 266.1 L587.5 271.1 L589.3 276 L589.9 280.3 L593 282.7 L597.3 285.2 L599.8 287.6 L599.1 291.3 L599.8 295 L598.5 297.5 L594.8 299.3 L590.5 302.4 L586.9 303.6 L586.2 304.5 L590.5 304.8 L595.5 304.2 L598.5 307.3 L600.4 309.1 L597.3 311.6 L596.1 314.1 L598.5 315.9 L596.7 319 L597.3 322.7 L594.8 324.5 L591.8 326.3 L589.3 329.4 L587.5 332 L588.1 331.9 L583.2 338.1 L578.3 341.8 L579.5 345.5 L575.8 351.6 L570.9 356.5 L564.8 360.2 L558.6 365.1 L551.3 370 L545.1 376.2 L539 378.6 L530.4 379.9 L523 383.5 L516.9 387.2 L511.9 384.8 L507 389.7 L499.7 392.1 L492.3 394.6 L484.9 395.8 L481.2 398.3 L480.7 397.4 L483.2 402.3 L480.7 406 L477.1 404.8 L475.8 398.6 L477.1 393.7 L473.4 393.2 L468.5 392.5 L463.5 391.3 L458.6 393.2 L453.7 392.5 L448.8 390" fill="none" stroke="#000080" stroke-width="0.9" stroke-linejoin="round"/>
<path d="M342.8 256 L347.7 257 L353.9 254.5 L357.6 257.7 L361.3 261.4 L363.7 260.2 L367.4 265.1 L371.1 267.6 L376 270 L383.4 267.6 L388.3 266.8 L393.2 268.8 L398.1 271.3 L400.6 270 L399.3 266.3 L394.4 263.9 L388.3 260.2 L382.1 257.7 L378.5 254.1 L377.2 250.4 L379.7 246.7 L385.8 245.5 L395.7 246.2 L405.5 246.7 L410.4 244.2 L408.6 245.8 L413.8 244.1 L420.6 240.6 L423.2 238.1 L420.6 235.5 L421.5 232 L427.5 230.3 L434.4 228.6 L438.7 225.2 L442.1 220 L444.8 214.7 L446 207.4 L447.2 200 L448.5 198.3 L452.2 196.3 L459.5 195.8 L466.9 198.3 L476.7 199.5 L490 202 L491.1 202 L492.3 209.8 L491.1 217.2 L487.4 222.1 L484.9 227 L483.7 236.9 L482.5 246.7 L481.2 255.3 L483.7 257.7 L489.8 257 L497.2 256 L507 257 L516.9 256.5 L526.7 256 L532.8 252.8 L539 247.9 L546.3 241.8 L553.7 236.9 L561.1 230.7 L567.2 227 L572.1 227.5" fill="none" stroke="#00FF00" stroke-width="1.1" stroke-linejoin="round"/>
<path d="M283.4 271.8 L283.8 265.8 L284.3 263.2 L292.9 264.1 L298 263.2 L303.2 264.9 L311.8 261.5 L320.4 258.1 L327.3 260.6 L334.2 265.8 L339.7 268.4 L346.5 276.2 L353.9 283.5 L360 288.5 L364.4 295.2 L366.1 303.8 L367 312.4 L368.7 321 L371.3 327.8 L373.9 333.9 L376.1 338.2 L377.8 332.1 L379.5 330.4 L380.2 338.2 L380.7 345 L385 345.9 L390.2 343.3 L392.8 341.6 L394.5 343.3 L395 347.6 L398.8 345.9 L402.2 344.2 L405.7 345 L406.5 339.9 L405.7 334.7 L408.3 330.4 L411.7 327 L414.3 323.5 L415.5 320.8 L424.1 318.9 L434.4 318 L443 313.7 L451.6 308.6 L458.5 302.6 L462.8 298.3 L468.8 296.5 L475.7 295.7 L482.6 295.7 L487.7 297.4 L491.2 300 L493.7 303.4 L498.9 304.3 L503.2 307.7 L508.4 312 L511.8 310.3 L517 306 L520.4 300.8 L523.8 300 L528.1 301.7 L532.4 304.3 L539.7 305.1 L539 308.1 L546.3 308.1 L553.7 303.2 L559.9 297.1 L564.8 289.7 L569.7 284.8 L578.3 284.3 L585.7 286.5 L593 287.2 L597.9 286" fill="none" stroke="#00FF00" stroke-width="1.1" stroke-linejoin="round"/>
<path d="M558.6 106.4 L567.2 101.5 L572.1 101.5 L574.6 96.5 L580.7 85.5 L586.9 79.3 L585.7 75.7 L582 73.7 L588.1 69.5 L600.4 67.1 L615.1 65.8 L627.4 68.3 L637.2 69.5 L644.6 74.4 L649.5 87.9 L656.9 99 L659.4 105.1 L669.2 107.6 L680 108.8 L687.7 113.5 L691.4 122.1 L698.8 125.8 L709.8 124.6 L719.7 120.9 L724.6 118.4 L734.4 117.7" fill="none" stroke="#00FF00" stroke-width="1.1" stroke-linejoin="round"/>
<path d="M558.6 107.1 L566 109.6 L578.3 110.1 L588.1 108.3 L594.3 107.1" fill="none" stroke="#00FF00" stroke-width="1.1" stroke-linejoin="round"/>
<path d="M637.3 69.3 L641.5 71 L644.7 74.5" fill="none" stroke="#222" stroke-width="0.9"/>
<path d="M648.6 87.3 L650.9 91.2 L653.3 94.1" fill="none" stroke="#222" stroke-width="0.9"/>
<path d="M675.4 106.4 L680.3 107.9 L684 111.3" fill="none" stroke="#222" stroke-width="0.9"/>
<path d="M699.3 126.8 L704.9 126.6 L709.8 125.3" fill="none" stroke="#222" stroke-width="0.9"/>
<path d="M722.1 118 L728.3 117.2 L734.4 117.5" fill="none" stroke="#222" stroke-width="0.9"/>
<path d="M599.2 67.5 L606.5 67.3 L613.9 66.6" fill="none" stroke="#222" stroke-width="0.9"/>
<path d="M637.2 69.5 L640.9 70.7 L644.1 73.7" fill="none" stroke="#222" stroke-width="0.9"/>
<path d="M649 87.9 L650.3 90.9 L652 92.9" fill="none" stroke="#222" stroke-width="0.9"/>
<path d="M559.9 105.6 L564.8 103.2 L568.5 101.2" fill="none" stroke="#222" stroke-width="0.9"/>
<rect x="538.4" y="398.4" width="2.2" height="2.0" fill="#000080"/>
<rect x="546.9" y="401.2" width="2.5" height="2.2" fill="#000080"/>
<rect x="507.9" y="414.1" width="1.7" height="1.0" fill="#000080"/>
<rect x="517.0" y="416.8" width="1.2" height="1.5" fill="#000080"/>
<rect x="546.0" y="446.1" width="1.7" height="1.7" fill="#000080"/>
<rect x="556.6" y="458.7" width="1.7" height="1.2" fill="#000080"/>
<rect x="489.9" y="451.7" width="1.0" height="1.0" fill="#000080"/>
<rect x="492.6" y="438.5" width="2.0" height="1.2" fill="#000080"/>
<rect x="499.8" y="440.1" width="2.2" height="1.5" fill="#000080"/>
<rect x="494.7" y="444.5" width="1.2" height="2.9" fill="#000080"/>
<rect x="497.7" y="447.0" width="1.5" height="1.5" fill="#000080"/>
<rect x="503.6" y="444.8" width="1.5" height="2.5" fill="#000080"/>
<rect x="506.2" y="441.5" width="1.2" height="1.2" fill="#000080"/>
<rect x="500.2" y="452.9" width="1.5" height="1.0" fill="#000080"/>
<rect x="503.8" y="449.6" width="1.2" height="1.2" fill="#000080"/>
<rect x="493.8" y="448.8" width="1.5" height="1.2" fill="#000080"/>
<ellipse cx="522.6" cy="452.9" rx="5.6" ry="3.2" transform="rotate(-22 522.6 452.9)" fill="none" stroke="#000080" stroke-width="1.3"/>
<rect x="615.3" y="349.0" width="2.2" height="1.7" fill="#000080"/>
<rect x="626.8" y="348.0" width="1.2" height="1.2" fill="#000080"/>
<rect x="600.9" y="352.1" width="1.5" height="1.5" fill="#000080"/>
<rect x="574.6" y="370.8" width="1.5" height="2.0" fill="#000080"/>
<rect x="575.7" y="373.6" width="1.7" height="1.7" fill="#000080"/>
<rect x="573.7" y="374.6" width="1.2" height="1.2" fill="#000080"/>
<rect x="594.6" y="381.6" width="1.7" height="1.5" fill="#000080"/>
<rect x="595.0" y="387.0" width="2.0" height="2.0" fill="#000080"/>
<rect x="588.7" y="390.3" width="1.2" height="1.2" fill="#000080"/>
<rect x="537.9" y="398.0" width="2.2" height="2.0" fill="#000080"/>
<rect x="546.2" y="400.9" width="2.7" height="2.2" fill="#000080"/>
<path d="M600.4 392.1 L593.5 399.5" fill="none" stroke="#222" stroke-width="0.9"/>
<path d="M600.4 392.5 L593.6 399.8" fill="none" stroke="#222" stroke-width="0.9"/>
<path d="M580.5 420 L575.6 428.8" fill="none" stroke="#222" stroke-width="0.9"/>
<path d="M470.7 448.5 L473.7 452.7 L475.6 457.6" fill="none" stroke="#222" stroke-width="0.9"/>
<path d="M570.7 450.2 L570.7 461.3" fill="none" stroke="#222" stroke-width="0.9"/>
<path d="M609 361.4 L607.8 371.3" fill="none" stroke="#222" stroke-width="0.9"/>
<rect x="605.3" y="299.0" width="1.2" height="1.2" fill="#000080"/>
<rect x="603.5" y="302.2" width="1.2" height="1.2" fill="#000080"/>
<rect x="601.6" y="303.6" width="1.2" height="1.2" fill="#000080"/>
<rect x="602.8" y="306.7" width="1.2" height="1.2" fill="#000080"/>
<rect x="601.0" y="307.9" width="1.2" height="1.2" fill="#000080"/>
<rect x="603.5" y="307.9" width="1.2" height="1.2" fill="#000080"/>
<rect x="598.5" y="312.2" width="1.2" height="1.2" fill="#000080"/>
<rect x="599.2" y="315.3" width="1.2" height="1.2" fill="#000080"/>
<rect x="596.7" y="316.5" width="1.2" height="1.2" fill="#000080"/>
<rect x="597.9" y="288.9" width="1.2" height="1.2" fill="#000080"/>
<rect x="596.1" y="290.1" width="1.2" height="1.2" fill="#000080"/>
<rect x="597.3" y="292.0" width="1.2" height="1.2" fill="#000080"/>
<rect x="605.0" y="211.3" width="1.2" height="1.2" fill="#000080"/>
<rect x="608.4" y="212.2" width="1.2" height="1.2" fill="#000080"/>
<rect x="611.9" y="213.4" width="1.2" height="1.2" fill="#000080"/>
<rect x="600.7" y="213.9" width="1.2" height="1.2" fill="#000080"/>
<rect x="587.8" y="220.8" width="1.2" height="1.2" fill="#000080"/>
<rect x="586.9" y="225.1" width="1.2" height="1.2" fill="#000080"/>
<rect x="596.4" y="214.8" width="1.2" height="1.2" fill="#000080"/>
<rect x="593.8" y="208.7" width="1.2" height="1.2" fill="#000080"/>
<rect x="597.5" y="320.6" width="1" height="1" fill="#000080"/>
<rect x="597.9" y="320.7" width="1" height="1" fill="#000080"/>
<rect x="599.0" y="323.2" width="1" height="1" fill="#000080"/>
<rect x="597.6" y="324.9" width="1" height="1" fill="#000080"/>
<rect x="595.7" y="325.3" width="1" height="1" fill="#000080"/>
<rect x="597.4" y="325.9" width="1" height="1" fill="#000080"/>
<rect x="594.0" y="327.7" width="1" height="1" fill="#000080"/>
<rect x="593.6" y="326.9" width="1" height="1" fill="#000080"/>
<rect x="591.1" y="331.7" width="1" height="1" fill="#000080"/>
<rect x="590.8" y="331.4" width="1" height="1" fill="#000080"/>
<rect x="589.3" y="332.4" width="1" height="1" fill="#000080"/>
<rect x="589.5" y="333.7" width="1" height="1" fill="#000080"/>
<rect x="589.1" y="332.3" width="1" height="1" fill="#000080"/>
<rect x="590.4" y="333.3" width="1" height="1" fill="#000080"/>
<rect x="585.2" y="340.4" width="1" height="1" fill="#000080"/>
<rect x="585.1" y="340.5" width="1" height="1" fill="#000080"/>
<rect x="579.5" y="343.9" width="1" height="1" fill="#000080"/>
<rect x="579.6" y="344.3" width="1" height="1" fill="#000080"/>
<rect x="581.8" y="346.0" width="1" height="1" fill="#000080"/>
<rect x="580.1" y="346.3" width="1" height="1" fill="#000080"/>
<rect x="578.3" y="352.9" width="1" height="1" fill="#000080"/>
<rect x="577.5" y="352.6" width="1" height="1" fill="#000080"/>
<rect x="572.4" y="357.7" width="1" height="1" fill="#000080"/>
<rect x="572.0" y="358.1" width="1" height="1" fill="#000080"/>
<rect x="566.4" y="362.6" width="1" height="1" fill="#000080"/>
<rect x="566.7" y="362.6" width="1" height="1" fill="#000080"/>
<rect x="560.9" y="367.7" width="1" height="1" fill="#000080"/>
<rect x="560.4" y="365.8" width="1" height="1" fill="#000080"/>
<rect x="553.6" y="372.5" width="1" height="1" fill="#000080"/>
<rect x="553.7" y="371.6" width="1" height="1" fill="#000080"/>
<rect x="547.0" y="377.0" width="1" height="1" fill="#000080"/>
<rect x="547.3" y="377.8" width="1" height="1" fill="#000080"/>
<rect x="540.0" y="379.0" width="1" height="1" fill="#000080"/>
<rect x="541.3" y="381.2" width="1" height="1" fill="#000080"/>
<rect x="530.9" y="382.0" width="1" height="1" fill="#000080"/>
<rect x="531.6" y="380.5" width="1" height="1" fill="#000080"/>
<rect x="524.0" y="385.6" width="1" height="1" fill="#000080"/>
<rect x="525.3" y="383.9" width="1" height="1" fill="#000080"/>
<rect x="518.6" y="387.6" width="1" height="1" fill="#000080"/>
<rect x="518.9" y="388.3" width="1" height="1" fill="#000080"/>
<rect x="514.2" y="387.4" width="1" height="1" fill="#000080"/>
<rect x="513.4" y="387.4" width="1" height="1" fill="#000080"/>
<rect x="508.0" y="390.2" width="1" height="1" fill="#000080"/>
<rect x="508.7" y="390.1" width="1" height="1" fill="#000080"/>
<rect x="500.5" y="393.3" width="1" height="1" fill="#000080"/>
<rect x="501.4" y="392.8" width="1" height="1" fill="#000080"/>
<rect x="492.7" y="396.9" width="1" height="1" fill="#000080"/>
<rect x="493.3" y="397.1" width="1" height="1" fill="#000080"/>
<rect x="487.3" y="397.0" width="1" height="1" fill="#000080"/>
<rect x="486.3" y="397.3" width="1" height="1" fill="#000080"/>
<rect x="483.0" y="400.0" width="1" height="1" fill="#000080"/>
<rect x="482.8" y="400.0" width="1" height="1" fill="#000080"/>
<rect x="483.2" y="398.9" width="1" height="1" fill="#000080"/>
<rect x="482.0" y="399.4" width="1" height="1" fill="#000080"/>
<rect x="484.0" y="403.3" width="1" height="1" fill="#000080"/>
<rect x="485.7" y="403.8" width="1" height="1" fill="#000080"/>
<rect x="482.3" y="406.3" width="1" height="1" fill="#000080"/>
<rect x="482.0" y="407.6" width="1" height="1" fill="#000080"/>
<rect x="477.4" y="406.5" width="1" height="1" fill="#000080"/>
<rect x="478.9" y="405.2" width="1" height="1" fill="#000080"/>
<rect x="477.5" y="400.0" width="1" height="1" fill="#000080"/>
<rect x="477.7" y="399.7" width="1" height="1" fill="#000080"/>
<rect x="479.0" y="395.7" width="1" height="1" fill="#000080"/>
<rect x="477.5" y="394.1" width="1" height="1" fill="#000080"/>
<rect x="475.3" y="395.7" width="1" height="1" fill="#000080"/>
<rect x="474.3" y="394.5" width="1" height="1" fill="#000080"/>
<rect x="470.2" y="393.5" width="1" height="1" fill="#000080"/>
<rect x="469.6" y="393.5" width="1" height="1" fill="#000080"/>
<rect x="464.6" y="393.0" width="1" height="1" fill="#000080"/>
<rect x="464.5" y="392.5" width="1" height="1" fill="#000080"/>
<rect x="460.7" y="393.6" width="1" height="1" fill="#000080"/>
<rect x="460.2" y="395.2" width="1" height="1" fill="#000080"/>
<rect x="454.7" y="393.3" width="1" height="1" fill="#000080"/>
<rect x="455.8" y="393.3" width="1" height="1" fill="#000080"/>
<rect x="449.5" y="391.3" width="1" height="1" fill="#000080"/>
<rect x="450.7" y="390.5" width="1" height="1" fill="#000080"/>
<rect x="426.9" y="348.2" width="153.4" height="50.9" fill="none" stroke="#333" stroke-width="0.8"/>
</g>
<rect x="648.4" y="295" width="133.5" height="163.6" fill="#fff"/>
<clipPath id="ins"><rect x="648.4" y="295" width="133.5" height="163.6"/></clipPath><g clip-path="url(#ins)">
<polygon points="648.3,293.5 706.3,293.5 706.7,299.1 708.6,301.8 705.4,302.7 703.6,301.8 699,305 693.4,305.7 687.9,305 682.4,306.4 676.9,305.5 673.2,306.4 667.6,305 662.1,306.1 656.6,305.5 652,302.7 649.6,299.1" fill="#FF6E00"/>
<polygon points="706.3,293.5 731.2,293.5 730.3,295.7 722.9,297.2 717.4,298.1 712.8,300.9 708.6,302.7 706.7,299.4" fill="#FFAA00"/>
<polygon points="674.6,306.1 679.1,306.1 680.2,310.1 678.7,313.8 680.5,316.6 676.9,317.5 675,312.9" fill="#FFAA00" stroke="#000080" stroke-width="0.5"/>
<polygon points="665.8,325.8 669.5,321.2 675.9,319.3 682.4,318.4 685.1,320.8 683.9,324.9 680.5,329.5 675,333.1 669.5,332.2 666.2,329.5" fill="#FFAA00"/><polygon points="676.9,319.7 682.4,318.4 685.1,320.8 683.9,324.9 680.9,327.6 677.8,324.9 676.5,322.1" fill="#FF6E00"/><polygon points="665.8,325.8 669.5,321.2 675.9,319.3 682.4,318.4 685.1,320.8 683.9,324.9 680.5,329.5 675,333.1 669.5,332.2 666.2,329.5" fill="none" stroke="#000080" stroke-width="0.7"/>
<polygon points="758.9,293.5 768.6,293.5 766.8,298.7 764.2,302 761.6,298.7" fill="#FFAA00"/>
<path d="M649.6 299.1 L652 302.7 L656.6 305.5 L662.1 306.1 L667.6 305 L673.2 306.4 L676.9 305.5 L682.4 306.4 L687.9 305 L693.4 305.7 L699 305 L703.6 301.8 L705.4 302.7 L708.6 301.8 L712.8 300.9 L717.4 298.1 L722.9 297.2 L730.3 295.7" fill="none" stroke="#000080" stroke-width="0.6"/>
<path d="M649.6 299.1 L652 302.7 L656.6 305.5 L662.1 306.1 L667.6 305" fill="none" stroke="#000" stroke-width="0.7"/>
<path d="M675 306.4 L681.5 300.9 L687 296.3" fill="none" stroke="#ddd" stroke-width="0.5"/>
<path d="M773 305 L769 310.1 L765.3 315.3" fill="none" stroke="#111" stroke-width="1.1"/>
<path d="M757.4 326.3 L754.3 332.2 L751.9 337.8" fill="none" stroke="#111" stroke-width="1.1"/>
<path d="M750 350.7 L749.8 357.1 L750.2 363.2" fill="none" stroke="#111" stroke-width="1.1"/>
<path d="M750 383.5 L747.2 389.4 L745 396" fill="none" stroke="#111" stroke-width="1.1"/>
<path d="M669.1 347 L672.2 351.6 L675 357.1" fill="none" stroke="#111" stroke-width="1.1"/>
<path d="M678.7 379.2 L679.4 383.8 L677.8 390.3" fill="none" stroke="#111" stroke-width="1.1"/>
<path d="M727.9 415.3 L723.3 419.9 L719.2 424.9" fill="none" stroke="#111" stroke-width="1.1"/>
<path d="M701.4 449.9 L695.3 451.8 L690.1 453.1" fill="none" stroke="#111" stroke-width="1.1"/>
<path d="M662.5 419.3 L662.1 426.3 L663.4 432.2" fill="none" stroke="#111" stroke-width="1.1"/>
<ellipse cx="712.2" cy="352.7" rx="4.2" ry="2.2" transform="rotate(-22 712.2 352.7)" fill="none" stroke="#000080" stroke-width="1.8"/>
<rect x="723.9" y="310.3" width="1.7" height="1.5" fill="#000080"/>
<rect x="730.7" y="312.7" width="1.8" height="1.5" fill="#000080"/>
<rect x="700.3" y="322.2" width="1.1" height="0.9" fill="#000080"/>
<rect x="707.4" y="324.8" width="1.5" height="0.9" fill="#000080"/>
<rect x="730.2" y="348.0" width="1.3" height="0.9" fill="#000080"/>
<rect x="738.9" y="357.4" width="1.3" height="1.3" fill="#000080"/>
<rect x="720.0" y="367.1" width="1.1" height="1.5" fill="#000080"/>
<rect x="769.1" y="297.1" width="0.9" height="0.9" fill="#000080"/>
<rect x="770.0" y="301.9" width="0.9" height="0.9" fill="#000080"/>
<rect x="669.9" y="309.4" width="0.9" height="1.5" fill="#000080"/>
<rect x="708.7" y="299.6" width="2.6" height="2.6" fill="#000080"/>
<rect x="698.4" y="305.3" width="1.1" height="1.1" fill="#000080"/>
<rect x="690.3" y="343.4" width="1.7" height="1.2" fill="#000080"/>
<rect x="693.3" y="345.6" width="1.2" height="1.6" fill="#000080"/>
<rect x="686.9" y="346.6" width="1.2" height="1.2" fill="#000080"/>
<rect x="691.9" y="350.8" width="1.2" height="1.3" fill="#000080"/>
<rect x="694.3" y="352.1" width="1.6" height="1.5" fill="#000080"/>
<rect x="698.6" y="342.2" width="1.9" height="1.4" fill="#000080"/>
<rect x="688.2" y="342.7" width="1.4" height="1.9" fill="#000080"/>
<rect x="688.5" y="348.1" width="1.7" height="1.4" fill="#000080"/>
<rect x="693.5" y="342.4" width="1.2" height="1.3" fill="#000080"/>
<rect x="695.1" y="346.3" width="1.4" height="1.6" fill="#000080"/>
<rect x="691.9" y="344.8" width="1.8" height="1.7" fill="#000080"/>
<rect x="689.3" y="347.8" width="1.6" height="1.9" fill="#000080"/>
<rect x="695.4" y="344.9" width="2.0" height="1.2" fill="#000080"/>
<rect x="691.8" y="350.0" width="1.2" height="1.6" fill="#000080"/>
<rect x="686.6" y="348.9" width="1.8" height="1.6" fill="#000080"/>
<rect x="697.4" y="345.0" width="1.7" height="1.7" fill="#000080"/>
<rect x="693.5" y="346.4" width="1.9" height="2.0" fill="#000080"/>
<rect x="692.5" y="348.8" width="1.2" height="1.8" fill="#000080"/>
<rect x="694.4" y="352.7" width="1.9" height="1.4" fill="#000080"/>
<rect x="691.4" y="349.0" width="1.1" height="1.5" fill="#000080"/>
<rect x="713.9" y="396.8" width="1.0" height="1.6" fill="#000080"/>
<rect x="714.4" y="397.4" width="1.4" height="1.7" fill="#000080"/>
<rect x="715.4" y="397.3" width="1.5" height="1.7" fill="#000080"/>
<rect x="715.3" y="383.7" width="1.2" height="1.3" fill="#000080"/>
<rect x="709.3" y="404.0" width="2.0" height="1.1" fill="#000080"/>
<rect x="714.0" y="398.2" width="1.2" height="1.4" fill="#000080"/>
<rect x="711.5" y="391.9" width="0.9" height="1.3" fill="#000080"/>
<rect x="710.5" y="399.8" width="2.0" height="1.6" fill="#000080"/>
<rect x="709.3" y="393.7" width="1.7" height="1.0" fill="#000080"/>
<rect x="716.4" y="388.1" width="1.9" height="1.7" fill="#000080"/>
<rect x="711.2" y="398.0" width="1.0" height="1.5" fill="#000080"/>
<rect x="714.0" y="395.3" width="1.2" height="1.1" fill="#000080"/>
<rect x="712.8" y="396.1" width="0.9" height="1.1" fill="#000080"/>
<rect x="715.2" y="397.5" width="0.9" height="1.7" fill="#000080"/>
<rect x="712.0" y="392.2" width="1.2" height="1.2" fill="#000080"/>
<rect x="711.9" y="396.4" width="1.9" height="1.8" fill="#000080"/>
<rect x="710.3" y="395.9" width="1.0" height="1.0" fill="#000080"/>
<rect x="711.7" y="398.3" width="1.8" height="1.1" fill="#000080"/>
<rect x="719.2" y="396.6" width="1.5" height="1.1" fill="#000080"/>
<rect x="712.4" y="393.7" width="1.5" height="1.8" fill="#000080"/>
<rect x="715.7" y="387.5" width="1.2" height="1.3" fill="#000080"/>
<rect x="715.2" y="403.0" width="1.5" height="1.6" fill="#000080"/>
<rect x="711.9" y="397.8" width="1.8" height="1.8" fill="#000080"/>
<rect x="715.6" y="385.7" width="1.8" height="1.6" fill="#000080"/>
<rect x="730.6" y="397.6" width="1.3" height="0.9" fill="#000080"/>
<rect x="734.1" y="393.8" width="1.2" height="1.6" fill="#000080"/>
<rect x="735.1" y="392.2" width="2.0" height="1.8" fill="#000080"/>
<rect x="734.8" y="392.6" width="1.2" height="1.1" fill="#000080"/>
<rect x="730.7" y="395.3" width="1.6" height="1.8" fill="#000080"/>
<rect x="732.9" y="390.1" width="1.6" height="1.7" fill="#000080"/>
<rect x="736.3" y="395.7" width="1.9" height="1.6" fill="#000080"/>
<rect x="729.7" y="389.5" width="1.1" height="1.6" fill="#000080"/>
<rect x="724.4" y="398.6" width="2.0" height="1.3" fill="#000080"/>
<rect x="718.5" y="398.2" width="1.7" height="1.1" fill="#000080"/>
<rect x="731.5" y="394.6" width="1.9" height="1.7" fill="#000080"/>
<rect x="735.6" y="398.3" width="2.0" height="1.5" fill="#000080"/>
<rect x="725.6" y="397.0" width="1.1" height="0.9" fill="#000080"/>
<rect x="737.4" y="392.3" width="1.5" height="1.8" fill="#000080"/>
<rect x="719.1" y="396.2" width="1.8" height="1.1" fill="#000080"/>
<rect x="729.6" y="396.1" width="1.2" height="1.5" fill="#000080"/>
<rect x="729.4" y="396.7" width="1.1" height="1.8" fill="#000080"/>
<rect x="725.8" y="396.1" width="1.6" height="1.8" fill="#000080"/>
<rect x="718.7" y="396.9" width="1.5" height="1.4" fill="#000080"/>
<rect x="728.5" y="393.5" width="1.4" height="1.1" fill="#000080"/>
<rect x="739.6" y="393.6" width="1.1" height="1.4" fill="#000080"/>
<rect x="728.6" y="389.2" width="1.3" height="1.4" fill="#000080"/>
<rect x="720.7" y="391.4" width="1.0" height="1.4" fill="#000080"/>
<rect x="729.4" y="396.1" width="1.8" height="1.4" fill="#000080"/>
<rect x="702.8" y="404.7" width="1.9" height="1.3" fill="#000080"/>
<rect x="706.0" y="403.9" width="1.5" height="1.6" fill="#000080"/>
<rect x="704.8" y="409.1" width="1.4" height="1.8" fill="#000080"/>
<rect x="707.0" y="398.8" width="2.0" height="1.2" fill="#000080"/>
<rect x="699.7" y="403.7" width="1.9" height="1.0" fill="#000080"/>
<rect x="714.0" y="411.2" width="1.0" height="1.1" fill="#000080"/>
<rect x="716.2" y="410.4" width="1.8" height="1.7" fill="#000080"/>
<rect x="714.3" y="413.8" width="1.7" height="1.1" fill="#000080"/>
<rect x="719.3" y="399.3" width="1.2" height="1.8" fill="#000080"/>
<rect x="705.7" y="410.6" width="2.0" height="1.7" fill="#000080"/>
<rect x="712.8" y="411.8" width="1.5" height="1.2" fill="#000080"/>
<rect x="711.4" y="411.6" width="1.7" height="0.9" fill="#000080"/>
<rect x="705.8" y="406.0" width="0.9" height="1.2" fill="#000080"/>
<rect x="706.5" y="403.5" width="1.0" height="1.8" fill="#000080"/>
<rect x="698.1" y="401.5" width="1.0" height="1.2" fill="#000080"/>
<rect x="703.4" y="410.5" width="1.2" height="1.0" fill="#000080"/>
<rect x="684.3" y="412.2" width="1.8" height="1.2" fill="#000080"/>
<rect x="701.3" y="414.3" width="1.6" height="1.6" fill="#000080"/>
<rect x="695.9" y="409.6" width="1.7" height="1.3" fill="#000080"/>
<rect x="705.4" y="412.0" width="1.6" height="1.7" fill="#000080"/>
<rect x="703.6" y="411.8" width="1.0" height="1.7" fill="#000080"/>
<rect x="690.0" y="409.6" width="1.5" height="1.8" fill="#000080"/>
<rect x="694.2" y="410.7" width="1.5" height="1.1" fill="#000080"/>
<rect x="717.3" y="416.5" width="1.0" height="1.1" fill="#000080"/>
<rect x="713.1" y="418.0" width="1.8" height="1.2" fill="#000080"/>
<rect x="711.9" y="415.2" width="1.3" height="0.9" fill="#000080"/>
<rect x="714.7" y="415.6" width="1.7" height="1.4" fill="#000080"/>
<rect x="716.6" y="419.0" width="2.0" height="1.0" fill="#000080"/>
<rect x="717.0" y="411.2" width="1.5" height="1.7" fill="#000080"/>
<rect x="710.3" y="417.5" width="1.7" height="1.8" fill="#000080"/>
<rect x="709.7" y="420.7" width="1.7" height="1.5" fill="#000080"/>
<rect x="711.4" y="417.1" width="1.0" height="1.0" fill="#000080"/>
<rect x="722.1" y="417.7" width="1.2" height="1.1" fill="#000080"/>
<rect x="722.5" y="418.5" width="1.9" height="1.5" fill="#000080"/>
<rect x="714.2" y="417.7" width="1.2" height="1.3" fill="#000080"/>
<rect x="728.4" y="405.0" width="1.2" height="1.8" fill="#000080"/>
<rect x="731.0" y="402.5" width="1.2" height="1.8" fill="#000080"/>
<rect x="724.8" y="405.2" width="0.9" height="1.3" fill="#000080"/>
<rect x="721.3" y="403.6" width="1.1" height="1.4" fill="#000080"/>
<rect x="729.3" y="403.3" width="1.0" height="1.3" fill="#000080"/>
<rect x="726.8" y="403.4" width="1.3" height="1.1" fill="#000080"/>
<rect x="721.5" y="401.7" width="1.8" height="1.5" fill="#000080"/>
<rect x="724.2" y="398.8" width="1.4" height="1.2" fill="#000080"/>
<rect x="722.3" y="398.7" width="1.7" height="1.5" fill="#000080"/>
<rect x="726.9" y="400.8" width="1.9" height="1.5" fill="#000080"/>
<rect x="719.9" y="392.2" width="1.1" height="1.4" fill="#000080"/>
<rect x="713.2" y="398.6" width="1.8" height="1.7" fill="#000080"/>
<rect x="713.5" y="394.9" width="1.7" height="1.6" fill="#000080"/>
<rect x="720.7" y="399.9" width="1.1" height="1.3" fill="#000080"/>
<rect x="672.6" y="418.8" width="1.1" height="1.1" fill="#000080"/>
<rect x="675.7" y="416.6" width="1.1" height="1.1" fill="#000080"/>
<rect x="680.0" y="414.7" width="1.1" height="1.1" fill="#000080"/>
<rect x="688.3" y="404.6" width="1.1" height="1.1" fill="#000080"/>
<rect x="689.2" y="410.1" width="1.1" height="1.1" fill="#000080"/>
<rect x="688.8" y="417.5" width="1.1" height="1.1" fill="#000080"/>
<rect x="700.3" y="402.2" width="1.1" height="1.1" fill="#000080"/>
<rect x="705.4" y="423.9" width="1.1" height="1.1" fill="#000080"/>
<rect x="702.7" y="428.9" width="1.1" height="1.1" fill="#000080"/>
<rect x="731.6" y="383.4" width="1.1" height="1.1" fill="#000080"/>
<rect x="739.0" y="390.8" width="1.1" height="1.1" fill="#000080"/>
<rect x="698.4" y="439.7" width="1.5" height="1.6" fill="#000080"/>
<rect x="695.6" y="433.3" width="1.5" height="1.1" fill="#000080"/>
<rect x="697.3" y="431.6" width="1.5" height="1.5" fill="#000080"/>
<rect x="696.4" y="435.5" width="1.6" height="1.3" fill="#000080"/>
<rect x="697.4" y="437.4" width="1.6" height="1.3" fill="#000080"/>
<rect x="696.6" y="428.3" width="1.5" height="1.4" fill="#000080"/>
<rect x="695.0" y="436.8" width="1.7" height="1.6" fill="#000080"/>
<rect x="696.6" y="435.5" width="1.2" height="1.3" fill="#000080"/>
<rect x="696.7" y="434.0" width="1.5" height="1.1" fill="#000080"/>
<rect x="697.5" y="437.1" width="1.6" height="1.6" fill="#000080"/>
<rect x="720.0" y="367.1" width="1.1" height="1.3" fill="#000080"/>
<rect x="669.1" y="399.6" width="0.7" height="0.7" fill="#000080"/>
<rect x="693.4" y="445.7" width="1.8" height="0.7" fill="#000080"/>
</g>
<rect x="648.4" y="295" width="133.5" height="163.6" fill="none" stroke="#222" stroke-width="1.2"/>
<g font-size="6.3px" font-weight="bold" text-anchor="start"><text x="718.3" y="439.3" textLength="40.5" lengthAdjust="spacingAndGlyphs">South China</text><text x="718.3" y="447.2" textLength="38" lengthAdjust="spacingAndGlyphs">Sea Islands</text><text x="718.3" y="455" textLength="61" lengthAdjust="spacingAndGlyphs">Scale 1:28 000 000</text></g>
<rect x="74" y="444.5" width="103" height="13" fill="#fff"/><text x="76.2" y="454.6" font-size="11.2px" font-weight="bold" textLength="98" lengthAdjust="spacingAndGlyphs">Scale 1:14 000 000</text>
<g stroke="#000" stroke-width="1.1" fill="none" stroke-linecap="butt">
<rect x="68.7" y="51.2" width="716.5999999999999" height="409.40000000000003"/>
<line x1="68.7" y1="51.2" x2="68.7" y2="37.2"/><line x1="68.7" y1="460.6" x2="68.7" y2="474.6"/>
<line x1="171.1" y1="51.2" x2="171.1" y2="37.2"/><line x1="171.1" y1="460.6" x2="171.1" y2="474.6"/>
<line x1="273.4" y1="51.2" x2="273.4" y2="37.2"/><line x1="273.4" y1="460.6" x2="273.4" y2="474.6"/>
<line x1="375.8" y1="51.2" x2="375.8" y2="37.2"/><line x1="375.8" y1="460.6" x2="375.8" y2="474.6"/>
<line x1="478.2" y1="51.2" x2="478.2" y2="37.2"/><line x1="478.2" y1="460.6" x2="478.2" y2="474.6"/>
<line x1="580.6" y1="51.2" x2="580.6" y2="37.2"/><line x1="580.6" y1="460.6" x2="580.6" y2="474.6"/>
<line x1="682.9" y1="51.2" x2="682.9" y2="37.2"/><line x1="682.9" y1="460.6" x2="682.9" y2="474.6"/>
<line x1="785.3" y1="51.2" x2="785.3" y2="37.2"/><line x1="785.3" y1="460.6" x2="785.3" y2="474.6"/>
<line x1="68.7" y1="409.4" x2="54.7" y2="409.4"/><line x1="785.3" y1="409.4" x2="799.3" y2="409.4"/>
<line x1="68.7" y1="307.1" x2="54.7" y2="307.1"/><line x1="785.3" y1="307.1" x2="799.3" y2="307.1"/>
<line x1="68.7" y1="204.7" x2="54.7" y2="204.7"/><line x1="785.3" y1="204.7" x2="799.3" y2="204.7"/>
<line x1="68.7" y1="102.4" x2="54.7" y2="102.4"/><line x1="785.3" y1="102.4" x2="799.3" y2="102.4"/>
</g><g stroke="#000" stroke-width="0.6" fill="none">
<line x1="68.7" y1="450.4" x2="61.7" y2="450.4"/><line x1="785.3" y1="450.4" x2="792.3" y2="450.4"/>
<line x1="68.7" y1="429.9" x2="61.7" y2="429.9"/><line x1="785.3" y1="429.9" x2="792.3" y2="429.9"/>
<line x1="68.7" y1="389.0" x2="61.7" y2="389.0"/><line x1="785.3" y1="389.0" x2="792.3" y2="389.0"/>
<line x1="68.7" y1="368.5" x2="61.7" y2="368.5"/><line x1="785.3" y1="368.5" x2="792.3" y2="368.5"/>
<line x1="68.7" y1="348.0" x2="61.7" y2="348.0"/><line x1="785.3" y1="348.0" x2="792.3" y2="348.0"/>
<line x1="68.7" y1="327.5" x2="61.7" y2="327.5"/><line x1="785.3" y1="327.5" x2="792.3" y2="327.5"/>
<line x1="68.7" y1="286.6" x2="61.7" y2="286.6"/><line x1="785.3" y1="286.6" x2="792.3" y2="286.6"/>
<line x1="68.7" y1="266.1" x2="61.7" y2="266.1"/><line x1="785.3" y1="266.1" x2="792.3" y2="266.1"/>
<line x1="68.7" y1="245.7" x2="61.7" y2="245.7"/><line x1="785.3" y1="245.7" x2="792.3" y2="245.7"/>
<line x1="68.7" y1="225.2" x2="61.7" y2="225.2"/><line x1="785.3" y1="225.2" x2="792.3" y2="225.2"/>
<line x1="68.7" y1="184.3" x2="61.7" y2="184.3"/><line x1="785.3" y1="184.3" x2="792.3" y2="184.3"/>
<line x1="68.7" y1="163.8" x2="61.7" y2="163.8"/><line x1="785.3" y1="163.8" x2="792.3" y2="163.8"/>
<line x1="68.7" y1="143.3" x2="61.7" y2="143.3"/><line x1="785.3" y1="143.3" x2="792.3" y2="143.3"/>
<line x1="68.7" y1="122.8" x2="61.7" y2="122.8"/><line x1="785.3" y1="122.8" x2="792.3" y2="122.8"/>
<line x1="68.7" y1="81.9" x2="61.7" y2="81.9"/><line x1="785.3" y1="81.9" x2="792.3" y2="81.9"/>
<line x1="68.7" y1="61.4" x2="61.7" y2="61.4"/><line x1="785.3" y1="61.4" x2="792.3" y2="61.4"/>
</g>
<g font-size="18.4px" text-anchor="middle">
<text x="69.0" y="501.8" textLength="32.5" lengthAdjust="spacingAndGlyphs">70E</text>
<text x="171.4" y="501.8" textLength="32.5" lengthAdjust="spacingAndGlyphs">80E</text>
<text x="273.7" y="501.8" textLength="32.5" lengthAdjust="spacingAndGlyphs">90E</text>
<text x="376.1" y="501.8" textLength="43" lengthAdjust="spacingAndGlyphs">100E</text>
<text x="478.5" y="501.8" textLength="43" lengthAdjust="spacingAndGlyphs">110E</text>
<text x="580.9" y="501.8" textLength="43" lengthAdjust="spacingAndGlyphs">120E</text>
<text x="683.2" y="501.8" textLength="43" lengthAdjust="spacingAndGlyphs">130E</text>
<text x="785.6" y="501.8" textLength="43" lengthAdjust="spacingAndGlyphs">140E</text>
</g><g font-size="18.4px" text-anchor="start">
<text x="8.8" y="416.1" textLength="33.5" lengthAdjust="spacingAndGlyphs">20N</text>
<text x="8.8" y="313.8" textLength="33.5" lengthAdjust="spacingAndGlyphs">30N</text>
<text x="8.8" y="211.4" textLength="33.5" lengthAdjust="spacingAndGlyphs">40N</text>
<text x="8.8" y="109.1" textLength="33.5" lengthAdjust="spacingAndGlyphs">50N</text>
</g>
<text x="427" y="26" font-size="23px" text-anchor="middle" textLength="517" lengthAdjust="spacingAndGlyphs">The maximum temperature : 20250725-20250730</text>
<rect x="109.90" y="516.3" width="57.62" height="36.4" fill="#1E90FF"/>
<rect x="167.52" y="516.3" width="57.62" height="36.4" fill="#00BFFF"/>
<rect x="225.14" y="516.3" width="57.62" height="36.4" fill="#A0D2FF"/>
<rect x="282.76" y="516.3" width="57.62" height="36.4" fill="#D2F5FF"/>
<rect x="340.38" y="516.3" width="57.62" height="36.4" fill="#FFFFC8"/>
<rect x="398.00" y="516.3" width="57.62" height="36.4" fill="#FFE132"/>
<rect x="455.62" y="516.3" width="57.62" height="36.4" fill="#FFAA00"/>
<rect x="513.24" y="516.3" width="57.62" height="36.4" fill="#FF6E00"/>
<rect x="570.86" y="516.3" width="57.62" height="36.4" fill="#FF0000"/>
<rect x="628.48" y="516.3" width="57.62" height="36.4" fill="#C80000"/>
<rect x="686.10" y="516.3" width="57.62" height="36.4" fill="#A02323"/>
<g stroke="#000" stroke-width="0.6">
<line x1="109.90" y1="516.3" x2="109.90" y2="552.6999999999999"/>
<line x1="167.52" y1="516.3" x2="167.52" y2="552.6999999999999"/>
<line x1="225.14" y1="516.3" x2="225.14" y2="552.6999999999999"/>
<line x1="282.76" y1="516.3" x2="282.76" y2="552.6999999999999"/>
<line x1="340.38" y1="516.3" x2="340.38" y2="552.6999999999999"/>
<line x1="398.00" y1="516.3" x2="398.00" y2="552.6999999999999"/>
<line x1="455.62" y1="516.3" x2="455.62" y2="552.6999999999999"/>
<line x1="513.24" y1="516.3" x2="513.24" y2="552.6999999999999"/>
<line x1="570.86" y1="516.3" x2="570.86" y2="552.6999999999999"/>
<line x1="628.48" y1="516.3" x2="628.48" y2="552.6999999999999"/>
<line x1="686.10" y1="516.3" x2="686.10" y2="552.6999999999999"/>
<line x1="743.72" y1="516.3" x2="743.72" y2="552.6999999999999"/>
<line x1="109.9" y1="516.3" x2="743.72" y2="516.3"/><line x1="109.9" y1="552.6999999999999" x2="743.72" y2="552.6999999999999"/>
</g><g font-size="18.4px" text-anchor="middle">
<text x="167.0" y="577" textLength="21.3" lengthAdjust="spacingAndGlyphs">10</text>
<text x="224.6" y="577" textLength="21.3" lengthAdjust="spacingAndGlyphs">15</text>
<text x="282.3" y="577" textLength="21.3" lengthAdjust="spacingAndGlyphs">20</text>
<text x="339.9" y="577" textLength="21.3" lengthAdjust="spacingAndGlyphs">25</text>
<text x="397.5" y="577" textLength="21.3" lengthAdjust="spacingAndGlyphs">30</text>
<text x="455.1" y="577" textLength="21.3" lengthAdjust="spacingAndGlyphs">32</text>
<text x="512.7" y="577" textLength="21.3" lengthAdjust="spacingAndGlyphs">34</text>
<text x="570.4" y="577" textLength="21.3" lengthAdjust="spacingAndGlyphs">36</text>
<text x="628.0" y="577" textLength="21.3" lengthAdjust="spacingAndGlyphs">38</text>
<text x="685.6" y="577" textLength="21.3" lengthAdjust="spacingAndGlyphs">40</text>
</g>
</svg></body></html>
